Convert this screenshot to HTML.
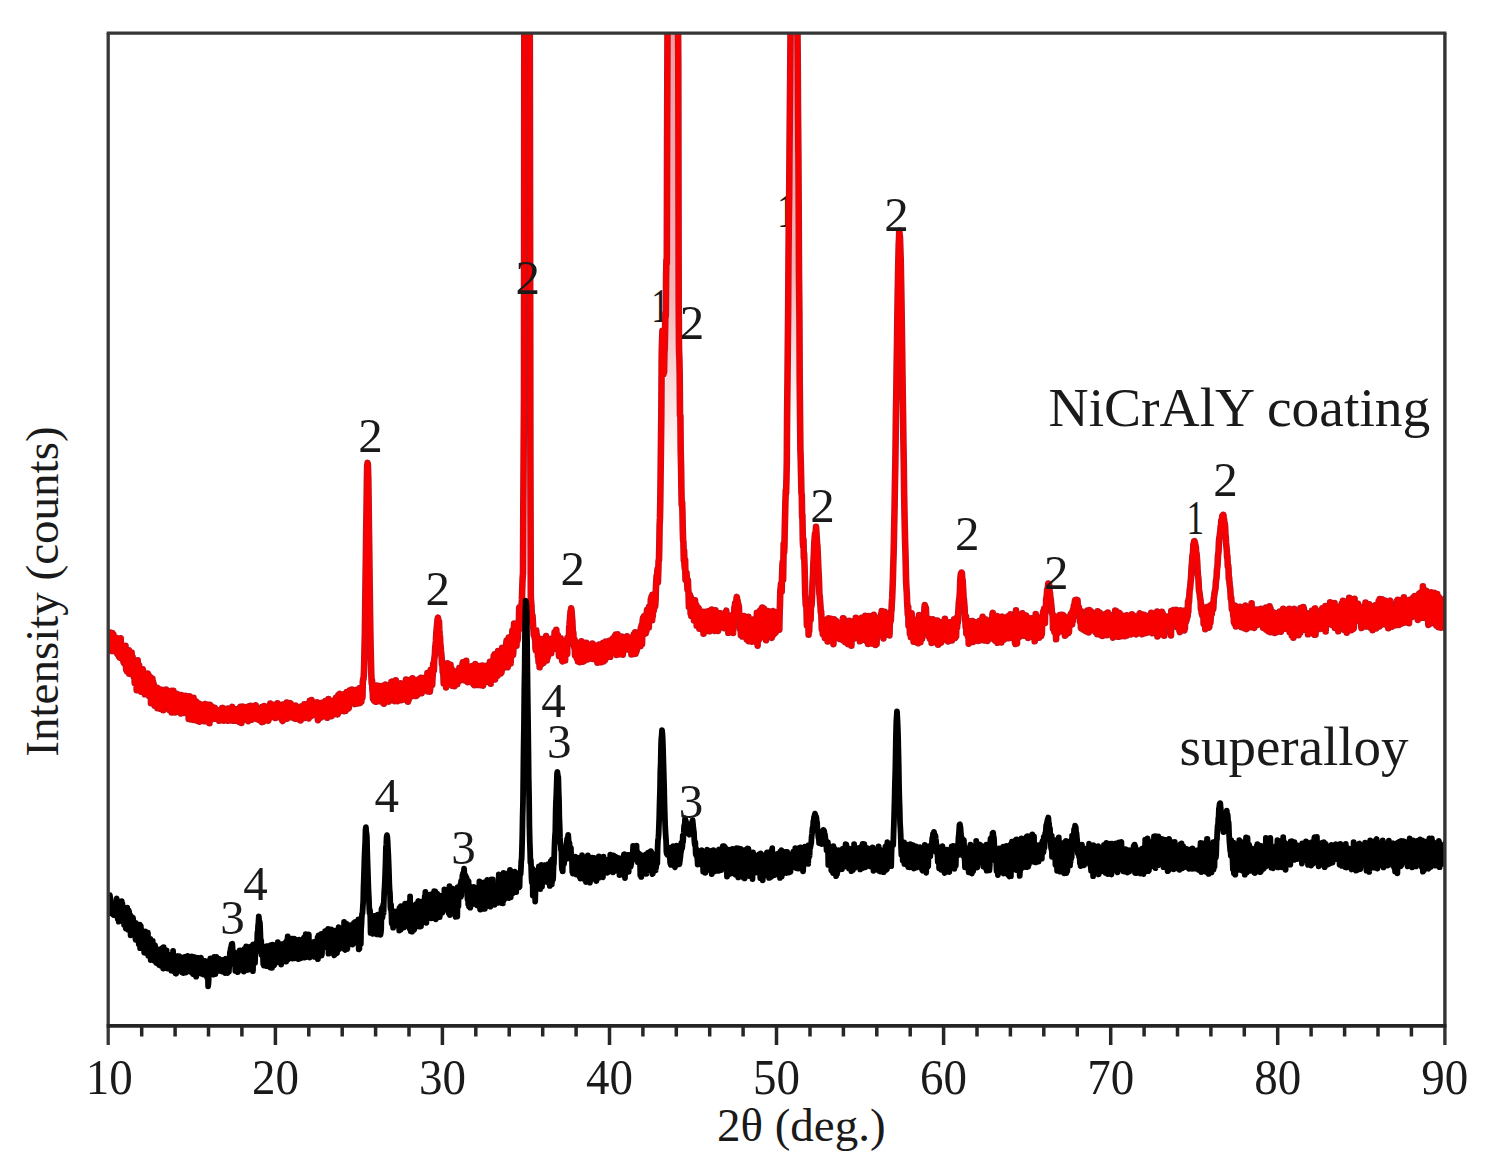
<!DOCTYPE html>
<html><head><meta charset="utf-8"><title>XRD</title>
<style>html,body{margin:0;padding:0;background:#fff;}body{width:1485px;height:1164px;overflow:hidden;}svg{display:block;}</style>
</head><body>
<svg width="1485" height="1164" viewBox="0 0 1485 1164">
<defs><clipPath id="pa"><rect x="108.3" y="32.5" width="1336.5" height="993.0"/></clipPath></defs>
<g font-family="'Liberation Serif', serif" fill="#1a1a1a" font-size="49" text-anchor="middle">
<text transform="translate(660.0,322.0) scale(0.72,1.000)">1</text>
<text transform="translate(786.0,227.0) scale(0.72,1.000)">1</text>
</g>
<defs><linearGradient id="pg" x1="0" y1="0" x2="0" y2="1"><stop offset="0" stop-color="#f29ca0"/><stop offset="0.6" stop-color="#f6b4b7"/><stop offset="1" stop-color="#fff"/></linearGradient></defs>
<polygon points="669.3,33.0 668.9,250.0 667.5,330.0 665.5,380.0 663.5,420.0 662.7,470.0 679.0,470.0 677.3,360.0 676.6,300.0 676.3,33.0" fill="url(#pg)"/>
<polygon points="793.0,33.0 791.5,260.0 790.2,430.0 797.0,430.0 796.0,260.0 795.0,33.0" fill="url(#pg)"/>
<polygon points="526.3,33.0 526.0,400.0 525.5,590.0 528.5,590.0 528.2,300.0 527.8,33.0" fill="url(#pg)"/>
<g clip-path="url(#pa)" fill="none" stroke-linejoin="round" stroke-linecap="round">
<defs><path id="rc" d="M100.0,640.3 L100.3,653.1 L100.7,630.4 L101.0,652.7 L101.4,634.9 L101.7,637.9 L102.0,648.6 L102.4,637.5 L102.7,641.2 L103.1,626.7 L103.4,646.0 L103.7,640.9 L104.1,635.2 L104.4,646.6 L104.8,634.6 L105.1,638.7 L105.4,630.2 L105.8,637.4 L106.1,632.3 L106.5,634.0 L106.8,645.0 L107.1,634.6 L107.5,639.6 L107.8,648.7 L108.2,648.2 L108.5,643.9 L108.8,640.7 L109.2,635.1 L109.5,632.7 L109.9,648.7 L110.2,640.5 L110.5,632.5 L110.9,643.4 L111.2,647.1 L111.6,643.9 L111.9,651.0 L112.2,633.0 L112.6,643.0 L112.9,641.8 L113.3,634.2 L113.6,646.2 L113.9,650.8 L114.3,645.7 L114.6,638.8 L115.0,651.1 L115.3,645.0 L115.6,645.3 L116.0,650.5 L116.3,637.7 L116.7,652.9 L117.0,650.4 L117.3,653.2 L117.7,640.6 L118.0,654.4 L118.4,641.2 L118.7,639.2 L119.0,656.7 L119.4,657.1 L119.7,657.6 L120.1,648.5 L120.4,644.3 L120.7,638.2 L121.1,653.7 L121.4,655.6 L121.8,658.2 L122.1,646.6 L122.4,645.4 L122.8,655.6 L123.1,658.9 L123.5,662.2 L123.8,646.1 L124.1,654.8 L124.5,663.6 L124.8,654.4 L125.2,658.8 L125.5,645.8 L125.8,662.3 L126.2,669.9 L126.5,668.2 L126.9,670.9 L127.2,664.8 L127.5,653.6 L127.9,669.5 L128.2,653.4 L128.6,672.8 L128.9,650.2 L129.2,673.8 L129.6,654.0 L129.9,660.4 L130.3,659.2 L130.6,671.1 L130.9,656.2 L131.3,662.7 L131.6,652.5 L132.0,660.0 L132.3,664.8 L132.6,657.1 L133.0,672.4 L133.3,665.2 L133.7,676.6 L134.0,674.5 L134.3,667.7 L134.7,683.0 L135.0,675.0 L135.4,681.7 L135.7,666.7 L136.0,673.1 L136.4,662.8 L136.7,690.3 L137.1,664.8 L137.4,665.6 L137.7,660.4 L138.1,666.7 L138.4,684.7 L138.8,682.7 L139.1,665.2 L139.4,672.5 L139.8,674.2 L140.1,683.4 L140.5,676.0 L140.8,681.0 L141.1,691.7 L141.5,687.4 L141.8,675.3 L142.2,677.8 L142.5,676.0 L142.8,669.3 L143.2,672.2 L143.5,674.8 L143.9,676.1 L144.2,676.6 L144.5,684.2 L144.9,694.3 L145.2,689.5 L145.6,690.1 L145.9,689.7 L146.2,686.4 L146.6,694.0 L146.9,689.4 L147.3,685.6 L147.6,673.6 L147.9,686.1 L148.3,677.7 L148.6,675.1 L149.0,687.9 L149.3,696.1 L149.6,681.3 L150.0,696.7 L150.3,690.0 L150.7,677.5 L151.0,703.2 L151.3,686.9 L151.7,683.7 L152.0,700.6 L152.4,678.9 L152.7,697.9 L153.0,681.8 L153.4,688.6 L153.7,684.0 L154.1,701.7 L154.4,689.6 L154.7,705.6 L155.1,696.8 L155.4,698.9 L155.8,694.7 L156.1,689.4 L156.4,692.1 L156.8,706.4 L157.1,687.8 L157.5,708.2 L157.8,702.5 L158.1,693.1 L158.5,700.1 L158.8,694.4 L159.2,694.9 L159.5,697.6 L159.8,689.4 L160.2,698.0 L160.5,708.8 L160.9,694.8 L161.2,703.9 L161.5,697.6 L161.9,693.7 L162.2,707.5 L162.6,690.0 L162.9,695.3 L163.2,710.1 L163.6,694.4 L163.9,707.3 L164.3,701.9 L164.6,706.8 L164.9,702.9 L165.3,696.8 L165.6,706.3 L166.0,689.6 L166.3,699.0 L166.6,697.4 L167.0,699.9 L167.3,692.1 L167.7,694.3 L168.0,702.3 L168.3,698.3 L168.7,708.0 L169.0,703.7 L169.4,710.0 L169.7,707.0 L170.0,704.0 L170.4,696.1 L170.7,708.5 L171.1,695.4 L171.4,690.8 L171.7,712.5 L172.1,703.3 L172.4,708.4 L172.8,703.4 L173.1,705.2 L173.4,690.8 L173.8,695.0 L174.1,706.9 L174.5,704.9 L174.8,694.7 L175.1,712.5 L175.5,695.0 L175.8,704.3 L176.2,695.3 L176.5,708.2 L176.8,699.1 L177.2,695.9 L177.5,694.1 L177.9,697.4 L178.2,698.1 L178.5,705.9 L178.9,704.4 L179.2,712.2 L179.6,712.3 L179.9,710.3 L180.2,708.6 L180.6,711.6 L180.9,713.5 L181.3,695.1 L181.6,697.3 L181.9,703.1 L182.3,696.8 L182.6,708.8 L183.0,700.9 L183.3,701.1 L183.6,701.7 L184.0,697.1 L184.3,712.9 L184.7,710.9 L185.0,709.9 L185.3,695.8 L185.7,705.7 L186.0,712.3 L186.4,699.2 L186.7,704.9 L187.0,696.3 L187.4,697.9 L187.7,701.2 L188.1,706.0 L188.4,707.2 L188.7,719.0 L189.1,703.8 L189.4,696.4 L189.8,717.0 L190.1,696.9 L190.4,697.6 L190.8,719.4 L191.1,714.5 L191.5,704.3 L191.8,698.3 L192.1,705.9 L192.5,704.7 L192.8,717.6 L193.2,707.3 L193.5,697.9 L193.8,719.9 L194.2,712.9 L194.5,700.0 L194.9,700.6 L195.2,709.5 L195.5,701.4 L195.9,713.8 L196.2,713.5 L196.6,702.1 L196.9,718.2 L197.2,717.7 L197.6,720.7 L197.9,715.1 L198.3,715.7 L198.6,705.8 L198.9,703.4 L199.3,704.2 L199.6,721.6 L200.0,715.0 L200.3,721.0 L200.6,709.5 L201.0,717.1 L201.3,704.5 L201.7,706.2 L202.0,708.2 L202.3,713.3 L202.7,713.4 L203.0,712.4 L203.4,711.0 L203.7,713.9 L204.0,721.2 L204.4,711.8 L204.7,718.9 L205.1,704.1 L205.4,710.6 L205.7,714.0 L206.1,715.1 L206.4,708.1 L206.8,711.0 L207.1,721.5 L207.4,716.0 L207.8,714.8 L208.1,704.7 L208.5,704.7 L208.8,707.9 L209.1,706.7 L209.5,723.2 L209.8,704.7 L210.2,711.2 L210.5,706.0 L210.8,716.4 L211.2,706.0 L211.5,706.4 L211.9,706.6 L212.2,709.9 L212.5,715.2 L212.9,719.0 L213.2,709.9 L213.6,710.2 L213.9,718.7 L214.2,717.5 L214.6,707.7 L214.9,718.2 L215.3,718.5 L215.6,709.1 L215.9,716.0 L216.3,709.8 L216.6,710.7 L217.0,714.5 L217.3,714.9 L217.6,714.4 L218.0,715.3 L218.3,711.0 L218.7,718.7 L219.0,712.0 L219.3,720.8 L219.7,715.2 L220.0,712.4 L220.4,710.5 L220.7,714.7 L221.0,713.2 L221.4,716.6 L221.7,714.8 L222.1,708.0 L222.4,719.5 L222.7,708.1 L223.1,719.4 L223.4,719.1 L223.8,720.7 L224.1,717.0 L224.4,709.4 L224.8,713.7 L225.1,713.7 L225.5,716.5 L225.8,712.7 L226.1,717.1 L226.5,709.9 L226.8,712.2 L227.2,715.1 L227.5,713.3 L227.8,708.6 L228.2,720.8 L228.5,717.0 L228.9,718.8 L229.2,712.1 L229.5,720.2 L229.9,718.4 L230.2,720.5 L230.6,709.4 L230.9,713.8 L231.2,712.3 L231.6,715.6 L231.9,709.7 L232.3,706.9 L232.6,713.6 L232.9,715.9 L233.3,711.7 L233.6,720.8 L234.0,712.1 L234.3,709.8 L234.6,718.4 L235.0,713.2 L235.3,709.3 L235.7,709.6 L236.0,720.2 L236.3,720.5 L236.7,715.9 L237.0,709.9 L237.4,716.9 L237.7,709.1 L238.0,710.9 L238.4,714.3 L238.7,712.1 L239.1,711.4 L239.4,721.8 L239.7,708.8 L240.1,715.6 L240.4,706.9 L240.8,707.6 L241.1,709.3 L241.4,723.0 L241.8,717.9 L242.1,720.7 L242.5,706.6 L242.8,717.1 L243.1,712.5 L243.5,712.1 L243.8,717.7 L244.2,710.2 L244.5,713.8 L244.8,709.2 L245.2,711.6 L245.5,714.2 L245.9,707.4 L246.2,709.6 L246.5,712.1 L246.9,713.0 L247.2,720.1 L247.6,716.6 L247.9,714.8 L248.2,721.1 L248.6,708.2 L248.9,706.4 L249.3,711.5 L249.6,706.5 L249.9,714.5 L250.3,714.8 L250.6,705.9 L251.0,717.2 L251.3,714.4 L251.6,711.9 L252.0,719.7 L252.3,718.6 L252.7,708.3 L253.0,707.5 L253.3,718.8 L253.7,707.7 L254.0,716.6 L254.4,710.5 L254.7,711.3 L255.0,714.1 L255.4,718.5 L255.7,705.4 L256.1,707.9 L256.4,716.1 L256.7,711.7 L257.1,709.8 L257.4,719.1 L257.8,709.3 L258.1,716.2 L258.4,719.7 L258.8,717.2 L259.1,716.6 L259.5,717.0 L259.8,718.6 L260.1,709.4 L260.5,715.8 L260.8,719.4 L261.2,721.3 L261.5,721.9 L261.8,722.0 L262.2,706.7 L262.5,711.3 L262.9,712.5 L263.2,721.7 L263.5,711.9 L263.9,709.6 L264.2,706.0 L264.6,710.0 L264.9,719.1 L265.2,706.2 L265.6,708.3 L265.9,710.3 L266.3,713.5 L266.6,710.9 L266.9,720.4 L267.3,708.6 L267.6,713.9 L268.0,718.0 L268.3,720.7 L268.6,719.5 L269.0,706.2 L269.3,717.9 L269.7,715.7 L270.0,711.0 L270.3,703.5 L270.7,706.2 L271.0,717.1 L271.4,704.8 L271.7,709.0 L272.0,708.0 L272.4,717.0 L272.7,709.8 L273.1,704.9 L273.4,709.8 L273.7,708.9 L274.1,715.9 L274.4,708.5 L274.8,715.2 L275.1,712.6 L275.4,718.0 L275.8,715.5 L276.1,709.7 L276.5,711.5 L276.8,711.2 L277.1,717.0 L277.5,703.3 L277.8,709.9 L278.2,712.2 L278.5,710.1 L278.8,713.1 L279.2,711.6 L279.5,709.7 L279.9,714.6 L280.2,708.2 L280.5,713.4 L280.9,715.6 L281.2,705.3 L281.6,708.6 L281.9,719.9 L282.2,720.4 L282.6,721.0 L282.9,704.6 L283.3,717.7 L283.6,719.9 L283.9,719.2 L284.3,715.5 L284.6,714.7 L285.0,715.6 L285.3,712.7 L285.6,716.8 L286.0,711.2 L286.3,705.5 L286.7,702.6 L287.0,718.6 L287.3,715.7 L287.7,704.0 L288.0,716.7 L288.4,706.8 L288.7,713.3 L289.0,708.1 L289.4,705.3 L289.7,704.8 L290.1,703.1 L290.4,703.4 L290.7,703.7 L291.1,704.3 L291.4,717.3 L291.8,711.3 L292.1,705.3 L292.4,711.4 L292.8,711.8 L293.1,710.8 L293.5,706.2 L293.8,709.8 L294.1,718.2 L294.5,708.7 L294.8,710.8 L295.2,718.6 L295.5,705.5 L295.8,714.5 L296.2,710.4 L296.5,715.3 L296.9,707.8 L297.2,711.3 L297.5,708.0 L297.9,716.7 L298.2,717.7 L298.6,712.9 L298.9,719.4 L299.2,714.9 L299.6,716.9 L299.9,718.3 L300.3,707.3 L300.6,720.4 L300.9,709.0 L301.3,710.4 L301.6,706.3 L302.0,717.0 L302.3,708.3 L302.6,714.2 L303.0,706.8 L303.3,708.5 L303.7,708.9 L304.0,707.0 L304.3,704.3 L304.7,715.0 L305.0,717.9 L305.4,706.7 L305.7,705.7 L306.0,708.2 L306.4,704.3 L306.7,712.8 L307.1,708.3 L307.4,711.4 L307.7,717.5 L308.1,716.8 L308.4,718.0 L308.8,718.3 L309.1,711.9 L309.4,710.3 L309.8,700.7 L310.1,702.1 L310.5,710.7 L310.8,716.1 L311.1,708.8 L311.5,700.0 L311.8,704.3 L312.2,713.9 L312.5,703.3 L312.8,704.2 L313.2,705.9 L313.5,711.6 L313.9,714.6 L314.2,704.5 L314.5,711.6 L314.9,710.6 L315.2,709.0 L315.6,711.4 L315.9,715.5 L316.2,704.5 L316.6,710.0 L316.9,702.4 L317.3,710.3 L317.6,715.9 L317.9,720.1 L318.3,709.6 L318.6,706.4 L319.0,711.6 L319.3,707.7 L319.6,703.2 L320.0,710.5 L320.3,715.3 L320.7,716.5 L321.0,717.5 L321.3,707.3 L321.7,705.2 L322.0,702.7 L322.4,708.2 L322.7,713.3 L323.0,704.4 L323.4,713.8 L323.7,711.9 L324.1,703.0 L324.4,710.8 L324.7,714.1 L325.1,716.4 L325.4,701.0 L325.8,714.8 L326.1,714.0 L326.4,702.3 L326.8,703.4 L327.1,717.8 L327.5,704.6 L327.8,702.8 L328.1,712.3 L328.5,699.0 L328.8,707.0 L329.2,704.0 L329.5,708.1 L329.8,709.3 L330.2,710.0 L330.5,705.2 L330.9,715.3 L331.2,714.1 L331.5,716.2 L331.9,705.1 L332.2,711.4 L332.6,704.6 L332.9,701.0 L333.2,709.0 L333.6,714.4 L333.9,711.4 L334.3,701.2 L334.6,699.9 L334.9,710.1 L335.3,708.9 L335.6,711.5 L336.0,697.7 L336.3,711.6 L336.6,703.6 L337.0,699.9 L337.3,701.3 L337.7,714.4 L338.0,713.6 L338.3,695.2 L338.7,700.3 L339.0,708.6 L339.4,693.9 L339.7,693.8 L340.0,693.9 L340.4,710.9 L340.7,700.1 L341.1,699.7 L341.4,709.3 L341.7,699.5 L342.1,708.2 L342.4,700.4 L342.8,698.8 L343.1,700.5 L343.4,696.1 L343.8,694.3 L344.1,711.2 L344.5,711.1 L344.8,701.3 L345.1,706.5 L345.5,710.8 L345.8,699.4 L346.2,706.8 L346.5,707.8 L346.8,692.1 L347.2,692.9 L347.5,707.2 L347.9,705.9 L348.2,692.9 L348.5,708.6 L348.9,707.8 L349.2,696.0 L349.6,696.0 L349.9,690.2 L350.2,698.4 L350.6,690.3 L350.9,700.2 L351.3,701.4 L351.6,700.4 L351.9,689.5 L352.3,700.5 L352.6,702.1 L353.0,690.8 L353.3,699.6 L353.6,702.3 L354.0,691.7 L354.3,703.3 L354.7,704.0 L355.0,700.4 L355.3,702.7 L355.7,693.4 L356.0,699.7 L356.4,703.7 L356.7,689.7 L357.0,702.2 L357.4,692.7 L357.7,701.9 L358.1,699.2 L358.4,701.7 L358.7,694.8 L359.1,695.5 L359.4,703.1 L359.8,688.1 L360.1,689.5 L360.4,702.9 L360.8,701.6 L361.1,688.4 L361.5,701.4 L361.8,689.7 L362.1,698.3 L362.5,696.8 L362.8,681.7 L363.2,679.1 L363.5,679.2 L363.8,675.3 L364.2,664.1 L364.5,648.5 L364.9,632.2 L365.2,608.1 L365.5,583.0 L365.9,554.9 L366.2,529.9 L366.6,503.4 L366.9,480.5 L367.2,465.5 L367.6,462.9 L367.9,464.8 L368.3,477.8 L368.6,499.0 L368.9,525.9 L369.3,554.1 L369.6,579.3 L370.0,608.4 L370.3,629.2 L370.6,645.4 L371.0,663.0 L371.3,674.7 L371.7,683.3 L372.0,680.2 L372.3,688.2 L372.7,692.2 L373.0,698.5 L373.4,693.1 L373.7,686.9 L374.0,700.6 L374.4,701.0 L374.7,694.2 L375.1,686.9 L375.4,699.6 L375.7,698.2 L376.1,701.8 L376.4,685.6 L376.8,693.6 L377.1,690.7 L377.4,687.2 L377.8,699.0 L378.1,691.7 L378.5,685.7 L378.8,687.5 L379.1,701.1 L379.5,697.1 L379.8,689.2 L380.2,699.2 L380.5,687.8 L380.8,698.7 L381.2,698.3 L381.5,686.1 L381.9,695.0 L382.2,699.8 L382.5,700.4 L382.9,699.2 L383.2,703.0 L383.6,700.1 L383.9,703.6 L384.2,693.0 L384.6,685.3 L384.9,688.0 L385.3,690.0 L385.6,684.6 L385.9,685.9 L386.3,694.8 L386.6,689.0 L387.0,689.8 L387.3,699.2 L387.6,701.4 L388.0,701.6 L388.3,691.7 L388.7,698.5 L389.0,701.5 L389.3,687.5 L389.7,688.3 L390.0,697.3 L390.4,689.1 L390.7,687.2 L391.0,690.7 L391.4,682.1 L391.7,691.9 L392.1,681.6 L392.4,686.3 L392.7,685.3 L393.1,688.2 L393.4,682.4 L393.8,691.9 L394.1,696.7 L394.4,688.0 L394.8,701.1 L395.1,699.5 L395.5,687.0 L395.8,680.3 L396.1,697.1 L396.5,685.5 L396.8,687.7 L397.2,693.1 L397.5,701.2 L397.8,687.0 L398.2,690.5 L398.5,693.6 L398.9,694.7 L399.2,685.3 L399.5,692.6 L399.9,691.5 L400.2,693.8 L400.6,683.2 L400.9,683.4 L401.2,700.2 L401.6,696.9 L401.9,697.0 L402.3,699.2 L402.6,699.6 L402.9,687.8 L403.3,695.1 L403.6,692.7 L404.0,691.0 L404.3,693.3 L404.6,685.8 L405.0,697.1 L405.3,687.6 L405.7,682.3 L406.0,679.6 L406.3,692.5 L406.7,683.8 L407.0,700.5 L407.4,682.8 L407.7,685.1 L408.0,701.6 L408.4,689.4 L408.7,699.6 L409.1,695.8 L409.4,680.1 L409.7,682.2 L410.1,686.0 L410.4,696.8 L410.8,684.8 L411.1,687.5 L411.4,687.8 L411.8,684.4 L412.1,693.6 L412.5,678.3 L412.8,681.9 L413.1,693.9 L413.5,690.0 L413.8,688.0 L414.2,684.9 L414.5,679.9 L414.8,686.7 L415.2,696.0 L415.5,689.1 L415.9,688.7 L416.2,695.6 L416.5,693.8 L416.9,695.7 L417.2,694.9 L417.6,689.9 L417.9,683.1 L418.2,689.1 L418.6,683.7 L418.9,692.3 L419.3,679.0 L419.6,685.8 L419.9,692.5 L420.3,685.4 L420.6,688.0 L421.0,677.9 L421.3,681.6 L421.6,693.3 L422.0,688.2 L422.3,682.7 L422.7,685.6 L423.0,689.5 L423.3,689.5 L423.7,690.1 L424.0,679.8 L424.4,678.3 L424.7,686.8 L425.0,684.8 L425.4,685.3 L425.7,677.3 L426.1,679.7 L426.4,688.1 L426.7,680.3 L427.1,688.0 L427.4,673.0 L427.8,691.5 L428.1,676.3 L428.4,682.1 L428.8,690.9 L429.1,676.5 L429.5,675.6 L429.8,691.7 L430.1,689.7 L430.5,681.7 L430.8,669.9 L431.2,682.0 L431.5,673.3 L431.8,671.7 L432.2,684.8 L432.5,677.7 L432.9,672.8 L433.2,663.8 L433.5,667.0 L433.9,670.4 L434.2,660.2 L434.6,656.9 L434.9,654.6 L435.2,647.5 L435.6,644.5 L435.9,641.0 L436.3,632.9 L436.6,629.7 L436.9,626.5 L437.3,622.1 L437.6,619.2 L438.0,617.7 L438.3,620.8 L438.6,624.2 L439.0,621.6 L439.3,629.7 L439.7,634.3 L440.0,636.9 L440.3,643.6 L440.7,647.2 L441.0,651.1 L441.4,654.9 L441.7,658.8 L442.0,664.7 L442.4,661.9 L442.7,671.8 L443.1,670.1 L443.4,675.7 L443.7,683.4 L444.1,669.3 L444.4,673.2 L444.8,671.1 L445.1,666.7 L445.4,679.1 L445.8,679.3 L446.1,687.4 L446.5,678.6 L446.8,673.9 L447.1,684.3 L447.5,663.4 L447.8,671.0 L448.2,681.2 L448.5,666.8 L448.8,672.4 L449.2,683.2 L449.5,671.8 L449.9,669.0 L450.2,684.1 L450.5,664.7 L450.9,683.4 L451.2,671.2 L451.6,668.5 L451.9,675.5 L452.2,675.4 L452.6,685.8 L452.9,681.2 L453.3,674.7 L453.6,677.0 L453.9,671.1 L454.3,686.2 L454.6,672.6 L455.0,683.9 L455.3,678.8 L455.6,684.2 L456.0,671.7 L456.3,673.3 L456.7,672.1 L457.0,681.8 L457.3,684.2 L457.7,681.5 L458.0,674.0 L458.4,681.4 L458.7,679.4 L459.0,675.4 L459.4,667.7 L459.7,668.9 L460.1,678.6 L460.4,667.9 L460.7,675.9 L461.1,680.1 L461.4,677.4 L461.8,676.6 L462.1,668.6 L462.4,664.8 L462.8,662.2 L463.1,662.1 L463.5,666.8 L463.8,675.5 L464.1,672.0 L464.5,665.3 L464.8,668.2 L465.2,673.0 L465.5,680.5 L465.8,677.4 L466.2,660.9 L466.5,673.5 L466.9,665.5 L467.2,681.6 L467.5,682.1 L467.9,675.0 L468.2,678.7 L468.6,677.5 L468.9,679.9 L469.2,668.4 L469.6,667.4 L469.9,677.9 L470.3,681.6 L470.6,667.9 L470.9,674.7 L471.3,674.3 L471.6,671.0 L472.0,678.5 L472.3,666.0 L472.6,670.8 L473.0,672.0 L473.3,683.8 L473.7,677.7 L474.0,678.4 L474.3,685.2 L474.7,666.8 L475.0,675.9 L475.4,664.1 L475.7,665.4 L476.0,678.2 L476.4,681.5 L476.7,676.8 L477.1,675.4 L477.4,680.8 L477.7,685.0 L478.1,684.1 L478.4,681.1 L478.8,671.5 L479.1,679.9 L479.4,666.0 L479.8,683.1 L480.1,667.0 L480.5,685.1 L480.8,667.6 L481.1,666.6 L481.5,668.7 L481.8,672.8 L482.2,665.5 L482.5,667.4 L482.8,684.2 L483.2,685.5 L483.5,665.8 L483.9,672.0 L484.2,671.6 L484.5,681.7 L484.9,677.2 L485.2,671.5 L485.6,679.8 L485.9,675.5 L486.2,667.9 L486.6,679.5 L486.9,672.4 L487.3,681.8 L487.6,676.9 L487.9,665.4 L488.3,679.4 L488.6,675.1 L489.0,674.1 L489.3,671.0 L489.6,677.4 L490.0,661.7 L490.3,672.8 L490.7,683.7 L491.0,664.0 L491.3,661.7 L491.7,668.7 L492.0,671.3 L492.4,666.9 L492.7,669.6 L493.0,674.0 L493.4,676.7 L493.7,656.1 L494.1,665.2 L494.4,671.3 L494.7,654.4 L495.1,679.5 L495.4,670.8 L495.8,666.3 L496.1,664.9 L496.4,656.4 L496.8,653.8 L497.1,669.9 L497.5,675.8 L497.8,671.9 L498.1,651.0 L498.5,651.2 L498.8,663.6 L499.2,664.8 L499.5,665.2 L499.8,671.6 L500.2,671.7 L500.5,673.6 L500.9,656.8 L501.2,659.7 L501.5,672.4 L501.9,664.6 L502.2,647.9 L502.6,668.8 L502.9,661.1 L503.2,649.7 L503.6,653.2 L503.9,658.8 L504.3,660.1 L504.6,653.4 L504.9,661.4 L505.3,655.9 L505.6,666.6 L506.0,663.5 L506.3,642.6 L506.6,640.7 L507.0,663.4 L507.3,655.8 L507.7,667.3 L508.0,649.7 L508.3,641.8 L508.7,637.5 L509.0,659.6 L509.4,638.1 L509.7,654.4 L510.0,651.2 L510.4,657.2 L510.7,663.4 L511.1,639.6 L511.4,646.5 L511.7,653.7 L512.1,635.4 L512.4,630.5 L512.8,631.2 L513.1,654.8 L513.4,650.1 L513.8,631.0 L514.1,623.6 L514.5,643.2 L514.8,631.8 L515.1,627.3 L515.5,625.1 L515.8,633.3 L516.2,627.9 L516.5,645.7 L516.8,632.6 L517.2,641.5 L517.5,640.4 L517.9,637.7 L518.2,624.2 L518.5,624.9 L518.9,621.9 L519.2,607.7 L519.6,628.9 L519.9,607.1 L520.2,614.1 L520.6,614.8 L520.9,614.9 L521.3,606.6 L521.6,604.6 L521.9,599.9 L522.3,586.8 L522.6,578.4 L523.0,573.3 L523.3,507.4 L523.6,459.7 L524.0,393.9 L524.3,23.9 L524.7,6.7 L525.0,10.3 L525.3,-15.4 L525.7,-24.8 L526.0,-33.0 L526.4,-49.2 L526.7,-57.6 L527.0,-78.8 L527.4,-60.0 L527.7,-42.5 L528.1,-51.4 L528.4,-25.1 L528.7,-24.8 L529.1,4.4 L529.4,10.2 L529.8,37.9 L530.1,231.8 L530.4,456.3 L530.8,597.0 L531.1,601.9 L531.5,605.7 L531.8,617.2 L532.1,622.8 L532.5,615.5 L532.8,620.8 L533.2,627.2 L533.5,630.4 L533.8,635.2 L534.2,632.8 L534.5,634.2 L534.9,639.0 L535.2,636.7 L535.5,648.6 L535.9,650.7 L536.2,630.3 L536.6,635.4 L536.9,634.9 L537.2,642.4 L537.6,643.4 L537.9,656.4 L538.3,656.4 L538.6,662.3 L538.9,656.0 L539.3,653.3 L539.6,667.3 L540.0,655.0 L540.3,647.4 L540.6,645.4 L541.0,639.0 L541.3,664.2 L541.7,657.7 L542.0,646.7 L542.3,660.9 L542.7,657.4 L543.0,648.7 L543.4,663.0 L543.7,661.1 L544.0,648.0 L544.4,647.4 L544.7,639.6 L545.1,637.9 L545.4,645.1 L545.7,640.7 L546.1,636.1 L546.4,655.2 L546.8,660.5 L547.1,653.4 L547.4,658.2 L547.8,657.1 L548.1,652.0 L548.5,649.3 L548.8,645.0 L549.1,648.5 L549.5,644.4 L549.8,641.2 L550.2,648.4 L550.5,651.8 L550.8,650.2 L551.2,653.3 L551.5,645.3 L551.9,638.5 L552.2,642.6 L552.5,643.9 L552.9,648.8 L553.2,644.9 L553.6,649.0 L553.9,639.4 L554.2,642.2 L554.6,632.2 L554.9,640.6 L555.3,640.2 L555.6,638.1 L555.9,637.5 L556.3,629.7 L556.6,641.8 L557.0,638.2 L557.3,634.5 L557.6,634.7 L558.0,635.8 L558.3,649.6 L558.7,650.8 L559.0,656.0 L559.3,653.1 L559.7,649.5 L560.0,641.7 L560.4,655.9 L560.7,638.4 L561.0,653.9 L561.4,642.2 L561.7,642.1 L562.1,660.8 L562.4,661.3 L562.7,655.5 L563.1,643.9 L563.4,649.0 L563.8,646.5 L564.1,641.9 L564.4,644.3 L564.8,640.7 L565.1,660.5 L565.5,644.2 L565.8,647.2 L566.1,644.1 L566.5,652.5 L566.8,650.0 L567.2,653.9 L567.5,637.7 L567.8,639.9 L568.2,644.4 L568.5,640.6 L568.9,640.0 L569.2,627.2 L569.5,624.5 L569.9,619.4 L570.2,615.3 L570.6,611.0 L570.9,611.8 L571.2,608.4 L571.6,610.7 L571.9,616.2 L572.3,620.0 L572.6,627.0 L572.9,633.7 L573.3,632.2 L573.6,640.6 L574.0,645.2 L574.3,647.7 L574.6,639.7 L575.0,655.2 L575.3,654.8 L575.7,646.5 L576.0,650.0 L576.3,656.2 L576.7,658.5 L577.0,646.3 L577.4,657.3 L577.7,649.7 L578.0,661.5 L578.4,660.0 L578.7,648.2 L579.1,648.2 L579.4,651.3 L579.7,662.2 L580.1,642.8 L580.4,652.9 L580.8,655.2 L581.1,656.8 L581.4,641.3 L581.8,654.2 L582.1,650.9 L582.5,648.3 L582.8,661.7 L583.1,642.6 L583.5,656.3 L583.8,644.9 L584.2,661.0 L584.5,652.4 L584.8,651.3 L585.2,646.2 L585.5,653.1 L585.9,659.8 L586.2,642.9 L586.5,655.6 L586.9,645.4 L587.2,647.2 L587.6,659.5 L587.9,645.4 L588.2,656.7 L588.6,645.7 L588.9,652.2 L589.3,654.3 L589.6,646.9 L589.9,657.4 L590.3,647.7 L590.6,651.4 L591.0,647.7 L591.3,656.6 L591.6,647.6 L592.0,647.7 L592.3,643.6 L592.7,659.0 L593.0,644.1 L593.3,648.6 L593.7,654.1 L594.0,649.0 L594.4,653.1 L594.7,649.6 L595.0,658.6 L595.4,647.6 L595.7,646.3 L596.1,647.1 L596.4,651.6 L596.7,653.2 L597.1,659.3 L597.4,662.6 L597.8,649.5 L598.1,659.2 L598.4,649.2 L598.8,648.6 L599.1,644.5 L599.5,659.7 L599.8,647.7 L600.1,654.0 L600.5,650.8 L600.8,662.3 L601.2,646.2 L601.5,651.5 L601.8,657.3 L602.2,644.8 L602.5,658.1 L602.9,651.4 L603.2,642.8 L603.5,661.4 L603.9,648.1 L604.2,649.2 L604.6,656.3 L604.9,660.2 L605.2,644.2 L605.6,641.7 L605.9,654.5 L606.3,652.9 L606.6,648.0 L606.9,652.0 L607.3,657.4 L607.6,655.3 L608.0,650.2 L608.3,656.4 L608.6,656.6 L609.0,654.0 L609.3,640.8 L609.7,649.8 L610.0,650.8 L610.3,656.8 L610.7,648.7 L611.0,650.9 L611.4,653.2 L611.7,640.1 L612.0,639.4 L612.4,638.8 L612.7,640.1 L613.1,642.9 L613.4,638.5 L613.7,649.8 L614.1,649.2 L614.4,646.6 L614.8,636.0 L615.1,647.9 L615.4,638.0 L615.8,634.5 L616.1,653.0 L616.5,654.9 L616.8,635.2 L617.1,649.9 L617.5,634.3 L617.8,648.3 L618.2,648.9 L618.5,648.2 L618.8,654.5 L619.2,648.5 L619.5,637.8 L619.9,653.9 L620.2,641.4 L620.5,647.1 L620.9,644.7 L621.2,652.3 L621.6,636.5 L621.9,643.1 L622.2,644.7 L622.6,648.0 L622.9,654.7 L623.3,641.3 L623.6,642.2 L623.9,649.5 L624.3,638.9 L624.6,645.7 L625.0,641.3 L625.3,648.2 L625.6,647.1 L626.0,649.5 L626.3,643.7 L626.7,639.9 L627.0,636.2 L627.3,647.5 L627.7,640.4 L628.0,637.3 L628.4,642.9 L628.7,641.4 L629.0,649.6 L629.4,641.6 L629.7,642.4 L630.1,650.3 L630.4,648.7 L630.7,638.2 L631.1,646.2 L631.4,654.4 L631.8,653.5 L632.1,651.9 L632.4,638.8 L632.8,654.3 L633.1,636.5 L633.5,641.2 L633.8,634.4 L634.1,644.8 L634.5,648.4 L634.8,647.5 L635.2,632.3 L635.5,653.7 L635.8,638.9 L636.2,648.0 L636.5,651.7 L636.9,648.4 L637.2,643.1 L637.5,643.3 L637.9,634.9 L638.2,637.0 L638.6,645.3 L638.9,641.8 L639.2,640.9 L639.6,640.6 L639.9,633.1 L640.3,646.2 L640.6,631.4 L640.9,627.5 L641.3,637.5 L641.6,625.4 L642.0,644.2 L642.3,633.3 L642.6,621.4 L643.0,618.1 L643.3,631.9 L643.7,616.8 L644.0,616.3 L644.3,625.0 L644.7,625.3 L645.0,633.6 L645.4,615.5 L645.7,633.1 L646.0,621.4 L646.4,631.3 L646.7,613.2 L647.1,609.8 L647.4,618.9 L647.7,612.7 L648.1,618.2 L648.4,626.4 L648.8,627.6 L649.1,606.8 L649.4,609.8 L649.8,610.0 L650.1,605.8 L650.5,611.5 L650.8,599.6 L651.1,601.8 L651.5,596.7 L651.8,606.1 L652.2,620.2 L652.5,594.9 L652.8,616.0 L653.2,597.0 L653.5,608.7 L653.9,610.3 L654.2,601.1 L654.5,603.3 L654.9,598.9 L655.2,606.2 L655.6,599.9 L655.9,588.3 L656.2,582.4 L656.6,575.8 L656.9,582.5 L657.3,571.7 L657.6,568.8 L657.9,582.5 L658.3,571.6 L658.6,560.5 L659.0,560.1 L659.3,545.5 L659.6,526.0 L660.0,517.4 L660.3,499.8 L660.7,467.0 L661.0,440.9 L661.3,415.3 L661.7,354.9 L662.0,342.1 L662.4,330.8 L662.7,361.0 L663.0,373.4 L663.4,374.5 L663.7,367.7 L664.1,372.0 L664.4,352.6 L664.7,349.3 L665.1,329.5 L665.4,313.1 L665.8,315.9 L666.1,277.1 L666.4,260.4 L666.8,263.3 L667.1,137.6 L667.5,23.6 L667.8,18.4 L668.1,20.1 L668.5,10.7 L668.8,5.1 L669.2,-7.5 L669.5,0.2 L669.8,-27.3 L670.2,-23.2 L670.5,-39.2 L670.9,-43.6 L671.2,-51.1 L671.5,-46.4 L671.9,-59.3 L672.2,-71.3 L672.6,-74.3 L672.9,-78.7 L673.2,-70.0 L673.6,-69.4 L673.9,-59.8 L674.3,-51.1 L674.6,-51.8 L674.9,-46.3 L675.3,-27.1 L675.6,-28.6 L676.0,-8.2 L676.3,-18.7 L676.6,-7.8 L677.0,8.2 L677.3,3.8 L677.7,17.1 L678.0,21.2 L678.3,62.2 L678.7,300.5 L679.0,348.7 L679.4,359.3 L679.7,374.6 L680.0,415.4 L680.4,415.8 L680.7,450.2 L681.1,467.8 L681.4,489.4 L681.7,504.8 L682.1,502.0 L682.4,510.5 L682.8,530.3 L683.1,540.5 L683.4,541.8 L683.8,560.2 L684.1,550.7 L684.5,565.2 L684.8,568.6 L685.1,559.8 L685.5,579.7 L685.8,572.1 L686.2,576.5 L686.5,572.9 L686.8,580.0 L687.2,583.4 L687.5,589.7 L687.9,580.2 L688.2,589.2 L688.5,591.5 L688.9,607.0 L689.2,596.9 L689.6,600.9 L689.9,594.9 L690.2,597.1 L690.6,613.5 L690.9,597.6 L691.3,616.0 L691.6,605.1 L691.9,615.8 L692.3,605.9 L692.6,614.3 L693.0,615.0 L693.3,602.6 L693.6,601.7 L694.0,620.5 L694.3,603.0 L694.7,616.7 L695.0,600.2 L695.3,609.3 L695.7,607.0 L696.0,605.1 L696.4,604.9 L696.7,625.7 L697.0,617.9 L697.4,612.7 L697.7,616.2 L698.1,624.9 L698.4,620.4 L698.7,608.1 L699.1,610.4 L699.4,628.8 L699.8,618.9 L700.1,620.4 L700.4,611.4 L700.8,611.3 L701.1,613.2 L701.5,615.9 L701.8,621.9 L702.1,617.8 L702.5,626.2 L702.8,620.1 L703.2,622.5 L703.5,633.7 L703.8,611.7 L704.2,625.4 L704.5,627.7 L704.9,615.2 L705.2,630.5 L705.5,614.2 L705.9,629.1 L706.2,615.5 L706.6,620.2 L706.9,619.5 L707.2,623.4 L707.6,624.8 L707.9,611.3 L708.3,629.0 L708.6,622.1 L708.9,631.1 L709.3,613.8 L709.6,620.0 L710.0,631.1 L710.3,624.0 L710.6,621.3 L711.0,620.5 L711.3,629.0 L711.7,609.5 L712.0,630.2 L712.3,620.3 L712.7,627.0 L713.0,620.5 L713.4,627.2 L713.7,610.9 L714.0,618.9 L714.4,626.2 L714.7,630.9 L715.1,620.9 L715.4,610.3 L715.7,625.9 L716.1,623.8 L716.4,612.2 L716.8,613.7 L717.1,620.4 L717.4,612.9 L717.8,629.5 L718.1,630.9 L718.5,625.5 L718.8,627.2 L719.1,617.0 L719.5,613.2 L719.8,624.3 L720.2,625.4 L720.5,623.7 L720.8,615.5 L721.2,613.4 L721.5,621.4 L721.9,615.3 L722.2,617.4 L722.5,620.3 L722.9,616.5 L723.2,627.7 L723.6,617.5 L723.9,622.0 L724.2,628.1 L724.6,623.7 L724.9,618.6 L725.3,625.3 L725.6,614.1 L725.9,612.0 L726.3,610.7 L726.6,625.1 L727.0,625.2 L727.3,625.7 L727.6,626.0 L728.0,624.0 L728.3,632.8 L728.7,621.4 L729.0,615.5 L729.3,617.9 L729.7,620.7 L730.0,625.0 L730.4,619.8 L730.7,621.2 L731.0,618.4 L731.4,627.9 L731.7,630.8 L732.1,618.8 L732.4,629.5 L732.7,614.9 L733.1,632.9 L733.4,617.0 L733.8,623.0 L734.1,620.0 L734.4,607.3 L734.8,615.2 L735.1,603.3 L735.5,608.1 L735.8,606.1 L736.1,607.6 L736.5,598.6 L736.8,596.9 L737.2,601.3 L737.5,599.9 L737.8,604.0 L738.2,603.3 L738.5,612.0 L738.9,606.3 L739.2,615.0 L739.5,623.4 L739.9,628.9 L740.2,617.6 L740.6,623.5 L740.9,635.1 L741.2,616.5 L741.6,632.8 L741.9,630.7 L742.3,636.4 L742.6,625.4 L742.9,624.9 L743.3,627.1 L743.6,623.0 L744.0,616.1 L744.3,628.0 L744.6,624.0 L745.0,626.9 L745.3,631.6 L745.7,624.3 L746.0,618.3 L746.3,636.0 L746.7,639.5 L747.0,620.3 L747.4,630.8 L747.7,624.5 L748.0,634.0 L748.4,616.7 L748.7,641.2 L749.1,639.5 L749.4,620.2 L749.7,633.1 L750.1,624.9 L750.4,622.2 L750.8,640.4 L751.1,637.2 L751.4,631.0 L751.8,632.5 L752.1,641.7 L752.5,624.1 L752.8,627.8 L753.1,621.0 L753.5,626.6 L753.8,619.2 L754.2,623.6 L754.5,632.9 L754.8,621.5 L755.2,633.2 L755.5,638.6 L755.9,632.3 L756.2,626.3 L756.5,623.7 L756.9,612.7 L757.2,637.8 L757.6,645.6 L757.9,616.9 L758.2,635.0 L758.6,631.1 L758.9,639.8 L759.3,634.3 L759.6,613.5 L759.9,610.8 L760.3,619.5 L760.6,613.1 L761.0,630.3 L761.3,609.2 L761.6,632.3 L762.0,635.5 L762.3,607.6 L762.7,637.2 L763.0,634.7 L763.3,608.4 L763.7,627.0 L764.0,608.7 L764.4,624.8 L764.7,611.3 L765.0,627.7 L765.4,611.5 L765.7,612.0 L766.1,640.3 L766.4,635.3 L766.7,630.8 L767.1,634.5 L767.4,615.2 L767.8,611.0 L768.1,618.5 L768.4,632.8 L768.8,632.5 L769.1,631.2 L769.5,621.5 L769.8,624.8 L770.1,631.6 L770.5,627.0 L770.8,614.7 L771.2,623.3 L771.5,637.1 L771.8,637.7 L772.2,611.2 L772.5,612.7 L772.9,611.0 L773.2,624.0 L773.5,634.7 L773.9,624.1 L774.2,619.0 L774.6,633.2 L774.9,616.2 L775.2,624.7 L775.6,632.6 L775.9,632.2 L776.3,612.4 L776.6,617.7 L776.9,620.9 L777.3,630.2 L777.6,628.3 L778.0,624.8 L778.3,620.3 L778.6,617.8 L779.0,626.1 L779.3,629.7 L779.7,611.8 L780.0,603.7 L780.3,590.4 L780.7,587.7 L781.0,583.9 L781.4,586.8 L781.7,591.6 L782.0,577.1 L782.4,566.1 L782.7,562.0 L783.1,579.6 L783.4,561.2 L783.7,543.9 L784.1,552.6 L784.4,547.9 L784.8,526.9 L785.1,515.1 L785.4,501.9 L785.8,490.2 L786.1,493.2 L786.5,477.2 L786.8,462.3 L787.1,415.6 L787.5,378.9 L787.8,347.1 L788.2,305.2 L788.5,257.6 L788.8,223.2 L789.2,194.1 L789.5,150.2 L789.9,105.7 L790.2,75.1 L790.5,33.2 L790.9,25.1 L791.2,13.1 L791.6,4.9 L791.9,0.6 L792.2,-22.4 L792.6,-45.0 L792.9,-45.0 L793.3,-55.8 L793.6,-57.7 L793.9,-64.2 L794.3,-81.4 L794.6,-47.8 L795.0,-59.8 L795.3,-35.9 L795.6,-43.6 L796.0,-5.7 L796.3,-9.1 L796.7,-4.4 L797.0,30.0 L797.3,13.5 L797.7,54.2 L798.0,109.4 L798.4,155.2 L798.7,209.7 L799.0,275.1 L799.4,314.4 L799.7,380.2 L800.1,421.3 L800.4,449.6 L800.7,459.1 L801.1,477.1 L801.4,492.3 L801.8,495.7 L802.1,517.0 L802.4,515.1 L802.8,539.6 L803.1,546.0 L803.5,539.5 L803.8,557.9 L804.1,553.4 L804.5,564.1 L804.8,575.8 L805.2,593.9 L805.5,599.6 L805.8,605.3 L806.2,602.1 L806.5,610.1 L806.9,625.4 L807.2,624.8 L807.5,621.0 L807.9,614.4 L808.2,613.7 L808.6,634.7 L808.9,621.3 L809.2,631.2 L809.6,615.5 L809.9,620.7 L810.3,612.5 L810.6,620.0 L810.9,607.0 L811.3,606.5 L811.6,604.9 L812.0,597.4 L812.3,589.7 L812.6,581.6 L813.0,575.3 L813.3,564.4 L813.7,557.5 L814.0,550.8 L814.3,542.5 L814.7,537.5 L815.0,533.8 L815.4,533.9 L815.7,532.9 L816.0,526.7 L816.4,532.0 L816.7,537.7 L817.1,543.7 L817.4,545.7 L817.7,551.8 L818.1,561.4 L818.4,569.8 L818.8,576.4 L819.1,583.9 L819.4,594.1 L819.8,596.8 L820.1,601.9 L820.5,606.4 L820.8,612.4 L821.1,610.9 L821.5,619.1 L821.8,629.2 L822.2,629.1 L822.5,629.3 L822.8,634.2 L823.2,634.7 L823.5,628.1 L823.9,631.4 L824.2,624.2 L824.5,629.1 L824.9,638.0 L825.2,628.9 L825.6,627.0 L825.9,633.1 L826.2,628.4 L826.6,619.6 L826.9,626.6 L827.3,620.6 L827.6,641.5 L827.9,636.8 L828.3,628.4 L828.6,618.4 L829.0,619.3 L829.3,623.5 L829.6,631.1 L830.0,618.8 L830.3,626.4 L830.7,621.0 L831.0,618.8 L831.3,619.4 L831.7,619.5 L832.0,641.1 L832.4,621.5 L832.7,619.6 L833.0,640.6 L833.4,644.1 L833.7,637.3 L834.1,619.4 L834.4,621.3 L834.7,621.9 L835.1,621.0 L835.4,630.4 L835.8,620.8 L836.1,637.8 L836.4,629.0 L836.8,624.8 L837.1,623.1 L837.5,632.4 L837.8,636.6 L838.1,632.6 L838.5,626.3 L838.8,636.8 L839.2,631.2 L839.5,632.6 L839.8,639.0 L840.2,634.5 L840.5,622.8 L840.9,635.0 L841.2,626.0 L841.5,637.1 L841.9,632.3 L842.2,631.8 L842.6,621.4 L842.9,618.3 L843.2,640.4 L843.6,618.4 L843.9,619.1 L844.3,629.9 L844.6,640.1 L844.9,631.9 L845.3,642.0 L845.6,636.0 L846.0,638.7 L846.3,638.9 L846.6,642.3 L847.0,643.2 L847.3,626.8 L847.7,636.6 L848.0,631.2 L848.3,644.2 L848.7,633.6 L849.0,628.8 L849.4,620.9 L849.7,637.8 L850.0,621.4 L850.4,635.4 L850.7,626.7 L851.1,636.2 L851.4,645.6 L851.7,628.3 L852.1,632.5 L852.4,632.5 L852.8,624.9 L853.1,638.0 L853.4,636.9 L853.8,639.0 L854.1,624.7 L854.5,620.9 L854.8,628.0 L855.1,621.1 L855.5,624.8 L855.8,617.9 L856.2,627.8 L856.5,626.7 L856.8,625.8 L857.2,627.3 L857.5,618.8 L857.9,628.6 L858.2,634.4 L858.5,626.2 L858.9,631.9 L859.2,638.4 L859.6,630.7 L859.9,641.3 L860.2,636.9 L860.6,631.3 L860.9,620.1 L861.3,629.1 L861.6,618.1 L861.9,639.9 L862.3,617.6 L862.6,621.6 L863.0,620.6 L863.3,637.4 L863.6,638.5 L864.0,634.6 L864.3,637.6 L864.7,621.6 L865.0,638.9 L865.3,615.8 L865.7,622.8 L866.0,638.7 L866.4,634.4 L866.7,641.3 L867.0,639.1 L867.4,619.7 L867.7,626.5 L868.1,644.0 L868.4,635.3 L868.7,638.1 L869.1,616.0 L869.4,643.0 L869.8,630.4 L870.1,617.9 L870.4,630.9 L870.8,641.2 L871.1,629.9 L871.5,643.4 L871.8,641.4 L872.1,628.4 L872.5,642.9 L872.8,636.8 L873.2,621.4 L873.5,617.0 L873.8,614.8 L874.2,628.9 L874.5,637.0 L874.9,617.0 L875.2,619.0 L875.5,645.0 L875.9,639.1 L876.2,622.4 L876.6,644.0 L876.9,627.2 L877.2,619.9 L877.6,622.8 L877.9,620.4 L878.3,634.9 L878.6,623.8 L878.9,630.6 L879.3,632.1 L879.6,628.0 L880.0,626.2 L880.3,623.0 L880.6,619.0 L881.0,614.2 L881.3,633.4 L881.7,611.1 L882.0,633.7 L882.3,634.0 L882.7,635.0 L883.0,630.9 L883.4,638.4 L883.7,623.3 L884.0,625.9 L884.4,620.4 L884.7,611.9 L885.1,625.1 L885.4,626.8 L885.7,625.7 L886.1,613.6 L886.4,617.0 L886.8,620.0 L887.1,623.6 L887.4,617.8 L887.8,621.9 L888.1,619.5 L888.5,614.5 L888.8,634.9 L889.1,626.3 L889.5,635.4 L889.8,623.7 L890.2,622.2 L890.5,615.0 L890.8,620.5 L891.2,610.9 L891.5,610.7 L891.9,601.9 L892.2,597.7 L892.5,589.5 L892.9,578.6 L893.2,566.5 L893.6,554.7 L893.9,541.3 L894.2,525.2 L894.6,506.0 L894.9,486.1 L895.3,464.7 L895.6,442.6 L895.9,416.0 L896.3,392.6 L896.6,368.8 L897.0,344.7 L897.3,319.5 L897.6,299.4 L898.0,278.7 L898.3,262.2 L898.7,245.0 L899.0,238.6 L899.3,230.6 L899.7,235.2 L900.0,237.7 L900.4,250.6 L900.7,258.9 L901.0,275.5 L901.4,297.9 L901.7,318.3 L902.1,345.2 L902.4,369.2 L902.7,391.2 L903.1,417.9 L903.4,441.4 L903.8,464.7 L904.1,491.7 L904.4,509.3 L904.8,528.5 L905.1,542.1 L905.5,554.8 L905.8,568.4 L906.1,581.5 L906.5,588.7 L906.8,592.8 L907.2,603.5 L907.5,608.4 L907.8,614.7 L908.2,606.7 L908.5,625.8 L908.9,619.6 L909.2,618.6 L909.5,617.7 L909.9,633.7 L910.2,618.5 L910.6,620.0 L910.9,637.3 L911.2,625.9 L911.6,613.3 L911.9,616.3 L912.3,634.7 L912.6,623.2 L912.9,623.1 L913.3,623.2 L913.6,641.8 L914.0,628.1 L914.3,639.8 L914.6,637.0 L915.0,636.9 L915.3,636.6 L915.7,624.1 L916.0,638.0 L916.3,628.9 L916.7,619.7 L917.0,621.8 L917.4,630.1 L917.7,628.8 L918.0,643.3 L918.4,632.9 L918.7,633.0 L919.1,615.1 L919.4,616.0 L919.7,623.6 L920.1,628.0 L920.4,642.1 L920.8,617.6 L921.1,635.6 L921.4,632.4 L921.8,622.8 L922.1,638.6 L922.5,624.0 L922.8,631.9 L923.1,618.4 L923.5,619.7 L923.8,618.4 L924.2,614.6 L924.5,607.4 L924.8,605.0 L925.2,607.4 L925.5,609.4 L925.9,607.6 L926.2,616.4 L926.5,623.7 L926.9,618.0 L927.2,626.7 L927.6,633.0 L927.9,625.7 L928.2,634.4 L928.6,636.5 L928.9,618.7 L929.3,625.0 L929.6,623.7 L929.9,638.7 L930.3,632.9 L930.6,619.8 L931.0,627.4 L931.3,624.1 L931.6,642.9 L932.0,640.6 L932.3,640.1 L932.7,619.2 L933.0,627.7 L933.3,629.6 L933.7,626.2 L934.0,642.1 L934.4,630.2 L934.7,638.9 L935.0,633.9 L935.4,629.0 L935.7,620.8 L936.1,642.2 L936.4,631.2 L936.7,620.9 L937.1,631.2 L937.4,620.5 L937.8,627.4 L938.1,644.6 L938.4,628.1 L938.8,627.9 L939.1,627.3 L939.5,634.2 L939.8,632.0 L940.1,629.3 L940.5,643.0 L940.8,631.3 L941.2,642.3 L941.5,629.8 L941.8,628.6 L942.2,624.7 L942.5,622.0 L942.9,634.0 L943.2,628.3 L943.5,622.9 L943.9,632.6 L944.2,638.5 L944.6,635.8 L944.9,618.8 L945.2,628.2 L945.6,637.1 L945.9,629.0 L946.3,630.1 L946.6,640.0 L946.9,623.4 L947.3,624.1 L947.6,638.2 L948.0,641.4 L948.3,624.5 L948.6,622.5 L949.0,637.9 L949.3,632.6 L949.7,626.2 L950.0,622.3 L950.3,632.2 L950.7,624.2 L951.0,638.8 L951.4,638.9 L951.7,635.6 L952.0,640.4 L952.4,626.4 L952.7,621.7 L953.1,633.5 L953.4,624.1 L953.7,634.2 L954.1,619.2 L954.4,626.0 L954.8,632.9 L955.1,638.0 L955.4,619.3 L955.8,627.3 L956.1,636.5 L956.5,618.1 L956.8,624.1 L957.1,627.5 L957.5,620.2 L957.8,622.7 L958.2,613.0 L958.5,608.4 L958.8,602.7 L959.2,599.6 L959.5,597.4 L959.9,591.5 L960.2,581.4 L960.5,577.1 L960.9,573.7 L961.2,576.2 L961.6,572.6 L961.9,573.2 L962.2,578.4 L962.6,579.8 L962.9,584.6 L963.3,591.7 L963.6,598.2 L963.9,599.1 L964.3,604.2 L964.6,607.6 L965.0,620.2 L965.3,619.1 L965.6,626.8 L966.0,616.5 L966.3,633.4 L966.7,621.5 L967.0,630.6 L967.3,621.3 L967.7,629.0 L968.0,636.7 L968.4,622.0 L968.7,643.8 L969.0,640.4 L969.4,636.0 L969.7,637.7 L970.1,625.3 L970.4,621.3 L970.7,626.2 L971.1,622.1 L971.4,626.4 L971.8,638.0 L972.1,623.0 L972.4,621.1 L972.8,638.7 L973.1,641.9 L973.5,628.3 L973.8,624.7 L974.1,639.9 L974.5,622.1 L974.8,627.4 L975.2,637.5 L975.5,635.7 L975.8,636.5 L976.2,629.7 L976.5,635.1 L976.9,626.5 L977.2,639.1 L977.5,637.2 L977.9,641.0 L978.2,636.6 L978.6,635.6 L978.9,623.9 L979.2,631.7 L979.6,620.9 L979.9,640.4 L980.3,637.4 L980.6,630.8 L980.9,638.3 L981.3,639.2 L981.6,625.9 L982.0,634.2 L982.3,619.2 L982.6,616.8 L983.0,636.6 L983.3,621.7 L983.7,627.0 L984.0,629.4 L984.3,640.5 L984.7,636.4 L985.0,630.7 L985.4,637.0 L985.7,623.4 L986.0,619.5 L986.4,623.5 L986.7,631.7 L987.1,625.4 L987.4,641.0 L987.7,630.5 L988.1,630.8 L988.4,634.8 L988.8,629.5 L989.1,620.8 L989.4,621.3 L989.8,627.8 L990.1,622.2 L990.5,620.7 L990.8,625.1 L991.1,636.5 L991.5,638.5 L991.8,621.2 L992.2,619.1 L992.5,613.8 L992.8,612.9 L993.2,624.4 L993.5,618.8 L993.9,628.8 L994.2,616.7 L994.5,632.5 L994.9,630.3 L995.2,640.7 L995.6,637.4 L995.9,617.1 L996.2,629.7 L996.6,624.7 L996.9,616.1 L997.3,629.8 L997.6,642.8 L997.9,619.7 L998.3,616.5 L998.6,621.1 L999.0,626.5 L999.3,622.6 L999.6,634.3 L1000.0,622.4 L1000.3,639.7 L1000.7,618.7 L1001.0,619.2 L1001.3,642.4 L1001.7,616.8 L1002.0,635.2 L1002.4,616.8 L1002.7,618.7 L1003.0,631.0 L1003.4,636.0 L1003.7,630.5 L1004.1,639.6 L1004.4,639.1 L1004.7,617.7 L1005.1,626.5 L1005.4,626.6 L1005.8,617.9 L1006.1,631.1 L1006.4,636.0 L1006.8,633.0 L1007.1,634.3 L1007.5,619.3 L1007.8,628.9 L1008.1,616.4 L1008.5,633.9 L1008.8,638.2 L1009.2,627.0 L1009.5,627.5 L1009.8,633.3 L1010.2,637.4 L1010.5,614.2 L1010.9,633.7 L1011.2,637.6 L1011.5,617.8 L1011.9,620.5 L1012.2,625.9 L1012.6,629.6 L1012.9,625.4 L1013.2,629.0 L1013.6,623.1 L1013.9,624.1 L1014.3,620.3 L1014.6,631.9 L1014.9,642.0 L1015.3,643.9 L1015.6,622.3 L1016.0,610.4 L1016.3,631.5 L1016.6,643.4 L1017.0,643.5 L1017.3,633.6 L1017.7,622.7 L1018.0,614.3 L1018.3,625.4 L1018.7,632.4 L1019.0,634.8 L1019.4,632.5 L1019.7,636.8 L1020.0,616.4 L1020.4,627.1 L1020.7,625.2 L1021.1,626.6 L1021.4,625.6 L1021.7,629.7 L1022.1,615.9 L1022.4,613.4 L1022.8,624.9 L1023.1,629.1 L1023.4,624.6 L1023.8,627.0 L1024.1,624.0 L1024.5,635.8 L1024.8,635.8 L1025.1,617.8 L1025.5,630.3 L1025.8,627.2 L1026.2,615.5 L1026.5,616.3 L1026.8,636.0 L1027.2,633.0 L1027.5,618.4 L1027.9,629.1 L1028.2,638.0 L1028.5,627.2 L1028.9,629.4 L1029.2,631.5 L1029.6,627.3 L1029.9,636.8 L1030.2,621.7 L1030.6,621.0 L1030.9,618.3 L1031.3,625.3 L1031.6,622.7 L1031.9,626.5 L1032.3,619.0 L1032.6,626.1 L1033.0,626.4 L1033.3,621.7 L1033.6,635.2 L1034.0,626.7 L1034.3,629.5 L1034.7,641.3 L1035.0,639.3 L1035.3,631.5 L1035.7,614.1 L1036.0,631.4 L1036.4,621.8 L1036.7,620.6 L1037.0,630.0 L1037.4,619.6 L1037.7,634.1 L1038.1,635.0 L1038.4,619.9 L1038.7,620.4 L1039.1,637.6 L1039.4,618.7 L1039.8,633.4 L1040.1,631.9 L1040.4,630.7 L1040.8,617.4 L1041.1,635.9 L1041.5,619.5 L1041.8,634.2 L1042.1,624.9 L1042.5,620.4 L1042.8,616.1 L1043.2,611.5 L1043.5,615.7 L1043.8,612.0 L1044.2,608.6 L1044.5,620.0 L1044.9,623.1 L1045.2,611.5 L1045.5,612.5 L1045.9,609.6 L1046.2,598.6 L1046.6,597.3 L1046.9,593.8 L1047.2,589.6 L1047.6,590.1 L1047.9,587.0 L1048.3,583.6 L1048.6,588.4 L1048.9,584.2 L1049.3,585.6 L1049.6,591.8 L1050.0,592.8 L1050.3,597.4 L1050.6,598.2 L1051.0,601.7 L1051.3,605.7 L1051.7,609.0 L1052.0,613.6 L1052.3,613.8 L1052.7,614.6 L1053.0,628.7 L1053.4,615.3 L1053.7,622.8 L1054.0,618.0 L1054.4,631.9 L1054.7,628.0 L1055.1,628.5 L1055.4,624.2 L1055.7,625.0 L1056.1,639.3 L1056.4,624.5 L1056.8,630.7 L1057.1,616.5 L1057.4,627.3 L1057.8,633.1 L1058.1,626.1 L1058.5,632.1 L1058.8,630.5 L1059.1,617.5 L1059.5,626.4 L1059.8,615.1 L1060.2,616.4 L1060.5,630.5 L1060.8,619.5 L1061.2,614.9 L1061.5,626.0 L1061.9,631.3 L1062.2,621.1 L1062.5,618.9 L1062.9,620.0 L1063.2,615.0 L1063.6,615.6 L1063.9,625.6 L1064.2,620.0 L1064.6,624.7 L1064.9,635.7 L1065.3,633.0 L1065.6,633.2 L1065.9,635.1 L1066.3,629.4 L1066.6,624.7 L1067.0,617.7 L1067.3,629.9 L1067.6,618.2 L1068.0,621.7 L1068.3,621.0 L1068.7,632.9 L1069.0,631.4 L1069.3,619.8 L1069.7,621.7 L1070.0,623.2 L1070.4,615.0 L1070.7,614.1 L1071.0,622.8 L1071.4,620.5 L1071.7,621.7 L1072.1,624.5 L1072.4,611.6 L1072.7,621.3 L1073.1,609.6 L1073.4,617.5 L1073.8,605.8 L1074.1,606.7 L1074.4,608.5 L1074.8,601.7 L1075.1,600.0 L1075.5,600.3 L1075.8,600.2 L1076.1,604.1 L1076.5,599.8 L1076.8,603.9 L1077.2,606.6 L1077.5,600.2 L1077.8,604.3 L1078.2,613.1 L1078.5,611.4 L1078.9,607.2 L1079.2,613.7 L1079.5,613.7 L1079.9,621.6 L1080.2,622.4 L1080.6,615.7 L1080.9,627.7 L1081.2,611.4 L1081.6,628.4 L1081.9,613.0 L1082.3,623.3 L1082.6,620.7 L1082.9,629.3 L1083.3,622.5 L1083.6,617.7 L1084.0,627.9 L1084.3,620.3 L1084.6,621.4 L1085.0,630.7 L1085.3,619.5 L1085.7,624.0 L1086.0,630.8 L1086.3,631.3 L1086.7,627.8 L1087.0,628.4 L1087.4,610.5 L1087.7,624.3 L1088.0,625.6 L1088.4,611.3 L1088.7,632.5 L1089.1,627.3 L1089.4,610.1 L1089.7,610.9 L1090.1,610.5 L1090.4,612.2 L1090.8,625.2 L1091.1,611.5 L1091.4,620.6 L1091.8,617.6 L1092.1,626.9 L1092.5,628.4 L1092.8,626.7 L1093.1,625.7 L1093.5,624.8 L1093.8,630.3 L1094.2,623.5 L1094.5,617.2 L1094.8,614.7 L1095.2,626.4 L1095.5,632.2 L1095.9,629.9 L1096.2,629.7 L1096.5,631.9 L1096.9,612.6 L1097.2,634.2 L1097.6,611.3 L1097.9,625.6 L1098.2,621.6 L1098.6,614.1 L1098.9,625.9 L1099.3,613.9 L1099.6,612.4 L1099.9,629.3 L1100.3,633.7 L1100.6,622.7 L1101.0,631.6 L1101.3,635.4 L1101.6,630.0 L1102.0,622.5 L1102.3,636.0 L1102.7,619.0 L1103.0,618.9 L1103.3,629.1 L1103.7,633.6 L1104.0,619.4 L1104.4,620.5 L1104.7,614.4 L1105.0,615.7 L1105.4,620.8 L1105.7,615.5 L1106.1,613.6 L1106.4,632.3 L1106.7,635.2 L1107.1,615.9 L1107.4,620.9 L1107.8,612.6 L1108.1,622.8 L1108.4,615.1 L1108.8,626.3 L1109.1,628.3 L1109.5,629.0 L1109.8,614.8 L1110.1,630.4 L1110.5,631.2 L1110.8,619.0 L1111.2,634.4 L1111.5,620.6 L1111.8,618.4 L1112.2,615.5 L1112.5,636.5 L1112.9,637.6 L1113.2,632.6 L1113.5,619.1 L1113.9,615.7 L1114.2,633.9 L1114.6,633.9 L1114.9,630.1 L1115.2,610.5 L1115.6,612.7 L1115.9,626.6 L1116.3,611.4 L1116.6,632.7 L1116.9,636.6 L1117.3,636.5 L1117.6,632.9 L1118.0,612.7 L1118.3,614.9 L1118.6,636.8 L1119.0,625.7 L1119.3,615.4 L1119.7,613.0 L1120.0,615.6 L1120.3,634.5 L1120.7,619.9 L1121.0,631.0 L1121.4,636.1 L1121.7,621.2 L1122.0,635.8 L1122.4,634.4 L1122.7,615.8 L1123.1,615.8 L1123.4,634.7 L1123.7,633.1 L1124.1,632.7 L1124.4,628.6 L1124.8,636.2 L1125.1,622.4 L1125.4,632.6 L1125.8,631.4 L1126.1,622.7 L1126.5,619.4 L1126.8,615.3 L1127.1,635.5 L1127.5,632.0 L1127.8,630.0 L1128.2,618.4 L1128.5,631.4 L1128.8,616.9 L1129.2,627.1 L1129.5,615.9 L1129.9,622.9 L1130.2,626.5 L1130.5,628.9 L1130.9,633.4 L1131.2,634.4 L1131.6,629.9 L1131.9,614.4 L1132.2,621.7 L1132.6,629.0 L1132.9,632.1 L1133.3,615.6 L1133.6,622.1 L1133.9,633.3 L1134.3,633.1 L1134.6,632.2 L1135.0,617.6 L1135.3,620.5 L1135.6,633.3 L1136.0,633.2 L1136.3,634.3 L1136.7,628.3 L1137.0,628.6 L1137.3,617.8 L1137.7,628.6 L1138.0,617.7 L1138.4,631.7 L1138.7,626.1 L1139.0,617.8 L1139.4,614.1 L1139.7,613.4 L1140.1,614.2 L1140.4,633.1 L1140.7,620.0 L1141.1,625.0 L1141.4,614.4 L1141.8,632.3 L1142.1,634.2 L1142.4,623.8 L1142.8,633.2 L1143.1,633.6 L1143.5,627.3 L1143.8,614.8 L1144.1,627.1 L1144.5,615.7 L1144.8,632.9 L1145.2,633.1 L1145.5,615.5 L1145.8,619.8 L1146.2,628.3 L1146.5,617.1 L1146.9,632.6 L1147.2,623.6 L1147.5,627.3 L1147.9,622.4 L1148.2,631.2 L1148.6,630.6 L1148.9,630.7 L1149.2,620.3 L1149.6,620.1 L1149.9,617.4 L1150.3,631.9 L1150.6,614.5 L1150.9,620.0 L1151.3,612.7 L1151.6,626.6 L1152.0,633.1 L1152.3,624.1 L1152.6,613.2 L1153.0,620.2 L1153.3,627.1 L1153.7,616.1 L1154.0,623.8 L1154.3,619.8 L1154.7,613.2 L1155.0,630.5 L1155.4,618.4 L1155.7,615.5 L1156.0,627.4 L1156.4,621.7 L1156.7,618.4 L1157.1,611.6 L1157.4,636.4 L1157.7,625.8 L1158.1,621.5 L1158.4,625.6 L1158.8,621.8 L1159.1,630.9 L1159.4,632.8 L1159.8,616.9 L1160.1,634.2 L1160.5,616.9 L1160.8,626.6 L1161.1,634.3 L1161.5,628.2 L1161.8,611.7 L1162.2,626.3 L1162.5,632.4 L1162.8,613.5 L1163.2,617.1 L1163.5,621.4 L1163.9,621.1 L1164.2,635.8 L1164.5,615.7 L1164.9,617.4 L1165.2,626.4 L1165.6,616.4 L1165.9,625.8 L1166.2,626.0 L1166.6,624.2 L1166.9,621.8 L1167.3,622.6 L1167.6,620.8 L1167.9,621.0 L1168.3,620.2 L1168.6,619.2 L1169.0,616.2 L1169.3,624.7 L1169.6,625.9 L1170.0,624.3 L1170.3,623.2 L1170.7,632.2 L1171.0,635.4 L1171.3,611.0 L1171.7,620.3 L1172.0,622.1 L1172.4,611.8 L1172.7,618.2 L1173.0,620.6 L1173.4,610.1 L1173.7,621.0 L1174.1,611.7 L1174.4,620.2 L1174.7,614.5 L1175.1,611.9 L1175.4,611.0 L1175.8,623.1 L1176.1,609.7 L1176.4,620.1 L1176.8,611.6 L1177.1,627.3 L1177.5,626.3 L1177.8,614.2 L1178.1,619.3 L1178.5,628.0 L1178.8,613.4 L1179.2,629.9 L1179.5,626.1 L1179.8,632.2 L1180.2,624.5 L1180.5,610.3 L1180.9,619.8 L1181.2,625.9 L1181.5,621.3 L1181.9,618.5 L1182.2,615.1 L1182.6,625.6 L1182.9,612.3 L1183.2,627.0 L1183.6,615.6 L1183.9,622.8 L1184.3,630.4 L1184.6,622.7 L1184.9,628.7 L1185.3,610.2 L1185.6,619.1 L1186.0,621.6 L1186.3,610.1 L1186.6,620.2 L1187.0,617.8 L1187.3,612.1 L1187.7,616.1 L1188.0,601.6 L1188.3,611.8 L1188.7,599.1 L1189.0,602.2 L1189.4,594.4 L1189.7,589.6 L1190.0,589.2 L1190.4,584.5 L1190.7,581.1 L1191.1,577.1 L1191.4,570.0 L1191.7,565.7 L1192.1,561.6 L1192.4,555.6 L1192.8,554.8 L1193.1,551.1 L1193.4,544.3 L1193.8,545.6 L1194.1,541.2 L1194.5,541.1 L1194.8,543.1 L1195.1,543.4 L1195.5,546.2 L1195.8,546.8 L1196.2,553.3 L1196.5,553.0 L1196.8,556.6 L1197.2,562.1 L1197.5,568.4 L1197.9,575.2 L1198.2,576.8 L1198.5,580.0 L1198.9,589.4 L1199.2,591.6 L1199.6,593.3 L1199.9,596.5 L1200.2,598.6 L1200.6,600.7 L1200.9,608.8 L1201.3,604.5 L1201.6,612.8 L1201.9,610.8 L1202.3,615.4 L1202.6,612.7 L1203.0,609.9 L1203.3,608.6 L1203.6,623.9 L1204.0,624.6 L1204.3,611.3 L1204.7,613.9 L1205.0,617.3 L1205.3,629.2 L1205.7,615.6 L1206.0,619.8 L1206.4,607.6 L1206.7,608.2 L1207.0,624.0 L1207.4,618.4 L1207.7,606.9 L1208.1,622.8 L1208.4,609.8 L1208.7,626.1 L1209.1,627.6 L1209.4,626.2 L1209.8,608.4 L1210.1,617.4 L1210.4,622.7 L1210.8,616.6 L1211.1,605.1 L1211.5,608.1 L1211.8,614.2 L1212.1,608.0 L1212.5,603.7 L1212.8,607.7 L1213.2,609.2 L1213.5,604.8 L1213.8,598.5 L1214.2,595.9 L1214.5,593.2 L1214.9,591.3 L1215.2,590.1 L1215.5,588.2 L1215.9,581.2 L1216.2,580.1 L1216.6,577.1 L1216.9,570.0 L1217.2,568.0 L1217.6,564.7 L1217.9,556.2 L1218.3,553.6 L1218.6,551.0 L1218.9,542.3 L1219.3,537.7 L1219.6,537.1 L1220.0,533.0 L1220.3,531.6 L1220.6,526.7 L1221.0,525.8 L1221.3,520.5 L1221.7,519.5 L1222.0,519.7 L1222.3,515.9 L1222.7,515.6 L1223.0,518.1 L1223.4,514.7 L1223.7,518.9 L1224.0,518.8 L1224.4,523.5 L1224.7,523.2 L1225.1,526.7 L1225.4,533.9 L1225.7,536.1 L1226.1,543.0 L1226.4,546.4 L1226.8,550.3 L1227.1,557.0 L1227.4,555.7 L1227.8,566.3 L1228.1,564.6 L1228.5,568.5 L1228.8,578.9 L1229.1,577.2 L1229.5,583.1 L1229.8,585.8 L1230.2,588.3 L1230.5,593.1 L1230.8,598.8 L1231.2,597.5 L1231.5,602.2 L1231.9,609.2 L1232.2,603.9 L1232.5,604.0 L1232.9,607.5 L1233.2,615.3 L1233.6,614.4 L1233.9,622.0 L1234.2,609.6 L1234.6,623.7 L1234.9,611.5 L1235.3,605.7 L1235.6,618.3 L1235.9,626.5 L1236.3,610.0 L1236.6,626.1 L1237.0,624.8 L1237.3,611.9 L1237.6,623.6 L1238.0,612.2 L1238.3,619.7 L1238.7,616.6 L1239.0,609.6 L1239.3,615.0 L1239.7,614.4 L1240.0,606.8 L1240.4,625.9 L1240.7,611.9 L1241.0,612.5 L1241.4,627.1 L1241.7,614.3 L1242.1,614.2 L1242.4,624.5 L1242.7,612.6 L1243.1,627.0 L1243.4,616.3 L1243.8,613.5 L1244.1,611.7 L1244.4,611.5 L1244.8,628.4 L1245.1,616.7 L1245.5,605.6 L1245.8,606.3 L1246.1,624.2 L1246.5,627.4 L1246.8,629.1 L1247.2,607.2 L1247.5,611.5 L1247.8,626.1 L1248.2,625.9 L1248.5,625.9 L1248.9,608.7 L1249.2,624.2 L1249.5,623.5 L1249.9,627.3 L1250.2,616.0 L1250.6,621.0 L1250.9,608.7 L1251.2,623.0 L1251.6,603.2 L1251.9,625.3 L1252.3,621.5 L1252.6,612.7 L1252.9,609.7 L1253.3,617.2 L1253.6,623.1 L1254.0,627.1 L1254.3,627.9 L1254.6,618.9 L1255.0,613.4 L1255.3,609.6 L1255.7,623.0 L1256.0,620.2 L1256.3,612.2 L1256.7,619.0 L1257.0,616.0 L1257.4,625.0 L1257.7,609.6 L1258.0,611.8 L1258.4,611.4 L1258.7,618.0 L1259.1,614.5 L1259.4,621.0 L1259.7,618.2 L1260.1,614.5 L1260.4,624.0 L1260.8,620.7 L1261.1,608.7 L1261.4,615.4 L1261.8,621.7 L1262.1,622.2 L1262.5,617.7 L1262.8,611.3 L1263.1,627.6 L1263.5,619.5 L1263.8,622.4 L1264.2,628.1 L1264.5,609.1 L1264.8,610.7 L1265.2,624.4 L1265.5,610.1 L1265.9,607.7 L1266.2,629.7 L1266.5,608.0 L1266.9,627.1 L1267.2,629.9 L1267.6,616.1 L1267.9,622.0 L1268.2,607.9 L1268.6,631.4 L1268.9,629.1 L1269.3,612.8 L1269.6,606.2 L1269.9,626.4 L1270.3,632.1 L1270.6,608.9 L1271.0,629.2 L1271.3,628.4 L1271.6,611.8 L1272.0,611.5 L1272.3,612.4 L1272.7,614.6 L1273.0,617.8 L1273.3,613.6 L1273.7,616.0 L1274.0,621.5 L1274.4,622.1 L1274.7,632.9 L1275.0,613.0 L1275.4,630.7 L1275.7,614.6 L1276.1,613.8 L1276.4,631.1 L1276.7,621.9 L1277.1,625.8 L1277.4,632.0 L1277.8,628.1 L1278.1,627.8 L1278.4,615.9 L1278.8,615.3 L1279.1,620.0 L1279.5,617.0 L1279.8,611.5 L1280.1,626.8 L1280.5,627.9 L1280.8,631.7 L1281.2,624.3 L1281.5,620.5 L1281.8,616.1 L1282.2,617.4 L1282.5,628.1 L1282.9,625.8 L1283.2,608.9 L1283.5,622.5 L1283.9,629.0 L1284.2,627.9 L1284.6,617.3 L1284.9,627.2 L1285.2,627.5 L1285.6,623.0 L1285.9,627.9 L1286.3,612.0 L1286.6,629.0 L1286.9,627.3 L1287.3,618.5 L1287.6,626.6 L1288.0,621.1 L1288.3,626.8 L1288.6,616.2 L1289.0,624.4 L1289.3,608.7 L1289.7,632.1 L1290.0,626.3 L1290.3,631.2 L1290.7,625.3 L1291.0,626.1 L1291.4,632.3 L1291.7,635.4 L1292.0,618.2 L1292.4,616.2 L1292.7,629.3 L1293.1,621.2 L1293.4,637.7 L1293.7,623.7 L1294.1,610.8 L1294.4,608.9 L1294.8,629.9 L1295.1,617.5 L1295.4,615.5 L1295.8,627.6 L1296.1,614.6 L1296.5,618.4 L1296.8,618.6 L1297.1,630.2 L1297.5,628.4 L1297.8,633.7 L1298.2,615.9 L1298.5,635.1 L1298.8,623.4 L1299.2,618.3 L1299.5,632.8 L1299.9,612.9 L1300.2,632.6 L1300.5,608.1 L1300.9,612.2 L1301.2,623.2 L1301.6,615.3 L1301.9,626.5 L1302.2,623.9 L1302.6,614.4 L1302.9,620.6 L1303.3,607.1 L1303.6,629.5 L1303.9,608.6 L1304.3,616.7 L1304.6,629.8 L1305.0,622.2 L1305.3,622.8 L1305.6,625.1 L1306.0,626.4 L1306.3,617.6 L1306.7,613.1 L1307.0,624.8 L1307.3,620.9 L1307.7,624.6 L1308.0,634.3 L1308.4,623.4 L1308.7,615.1 L1309.0,618.0 L1309.4,632.0 L1309.7,616.5 L1310.1,617.4 L1310.4,633.3 L1310.7,620.8 L1311.1,626.0 L1311.4,632.5 L1311.8,630.4 L1312.1,610.5 L1312.4,621.0 L1312.8,625.9 L1313.1,611.7 L1313.5,612.4 L1313.8,628.6 L1314.1,627.6 L1314.5,634.8 L1314.8,608.5 L1315.2,608.4 L1315.5,634.6 L1315.8,626.3 L1316.2,610.4 L1316.5,624.8 L1316.9,624.2 L1317.2,624.9 L1317.5,628.1 L1317.9,625.4 L1318.2,621.3 L1318.6,617.7 L1318.9,614.0 L1319.2,629.0 L1319.6,618.9 L1319.9,614.9 L1320.3,622.6 L1320.6,623.0 L1320.9,621.6 L1321.3,627.1 L1321.6,621.9 L1322.0,616.4 L1322.3,608.4 L1322.6,609.0 L1323.0,619.3 L1323.3,612.7 L1323.7,609.2 L1324.0,629.2 L1324.3,617.9 L1324.7,626.0 L1325.0,629.4 L1325.4,606.1 L1325.7,631.4 L1326.0,620.3 L1326.4,614.0 L1326.7,618.4 L1327.1,611.0 L1327.4,614.0 L1327.7,620.9 L1328.1,609.8 L1328.4,617.0 L1328.8,612.0 L1329.1,623.7 L1329.4,610.2 L1329.8,622.5 L1330.1,602.4 L1330.5,616.1 L1330.8,617.1 L1331.1,614.8 L1331.5,618.3 L1331.8,624.9 L1332.2,618.3 L1332.5,624.9 L1332.8,623.1 L1333.2,607.2 L1333.5,610.5 L1333.9,605.5 L1334.2,625.3 L1334.5,603.0 L1334.9,627.9 L1335.2,618.9 L1335.6,614.7 L1335.9,619.0 L1336.2,618.2 L1336.6,620.7 L1336.9,618.2 L1337.3,611.0 L1337.6,628.9 L1337.9,620.2 L1338.3,631.3 L1338.6,607.4 L1339.0,628.9 L1339.3,619.9 L1339.6,621.1 L1340.0,627.4 L1340.3,606.4 L1340.7,609.1 L1341.0,617.7 L1341.3,611.1 L1341.7,603.5 L1342.0,610.3 L1342.4,620.1 L1342.7,620.0 L1343.0,600.9 L1343.4,610.0 L1343.7,625.0 L1344.1,619.8 L1344.4,619.0 L1344.7,630.2 L1345.1,609.8 L1345.4,601.9 L1345.8,619.6 L1346.1,620.4 L1346.4,617.0 L1346.8,632.6 L1347.1,622.0 L1347.5,601.6 L1347.8,620.5 L1348.1,601.1 L1348.5,617.4 L1348.8,614.8 L1349.2,597.8 L1349.5,604.1 L1349.8,611.7 L1350.2,608.2 L1350.5,601.7 L1350.9,618.7 L1351.2,630.3 L1351.5,599.1 L1351.9,624.1 L1352.2,609.8 L1352.6,607.2 L1352.9,624.1 L1353.2,628.0 L1353.6,628.8 L1353.9,626.9 L1354.3,602.5 L1354.6,598.8 L1354.9,621.1 L1355.3,621.4 L1355.6,604.2 L1356.0,616.8 L1356.3,618.6 L1356.6,611.8 L1357.0,606.5 L1357.3,611.1 L1357.7,609.9 L1358.0,603.8 L1358.3,610.1 L1358.7,609.7 L1359.0,620.3 L1359.4,619.2 L1359.7,620.4 L1360.0,610.8 L1360.4,618.1 L1360.7,606.9 L1361.1,623.0 L1361.4,628.0 L1361.7,622.9 L1362.1,621.8 L1362.4,617.4 L1362.8,622.5 L1363.1,614.5 L1363.4,609.0 L1363.8,622.7 L1364.1,616.0 L1364.5,626.5 L1364.8,617.8 L1365.1,616.5 L1365.5,602.5 L1365.8,607.8 L1366.2,621.2 L1366.5,614.0 L1366.8,626.4 L1367.2,618.7 L1367.5,609.2 L1367.9,608.7 L1368.2,610.0 L1368.5,607.9 L1368.9,616.8 L1369.2,604.4 L1369.6,618.3 L1369.9,614.1 L1370.2,627.6 L1370.6,628.0 L1370.9,610.7 L1371.3,608.1 L1371.6,614.0 L1371.9,616.1 L1372.3,622.3 L1372.6,630.1 L1373.0,627.7 L1373.3,613.3 L1373.6,617.2 L1374.0,618.1 L1374.3,626.8 L1374.7,605.7 L1375.0,624.6 L1375.3,609.4 L1375.7,605.1 L1376.0,628.4 L1376.4,611.3 L1376.7,621.9 L1377.0,611.5 L1377.4,609.2 L1377.7,616.6 L1378.1,607.1 L1378.4,607.3 L1378.7,601.0 L1379.1,620.9 L1379.4,626.4 L1379.8,599.0 L1380.1,608.3 L1380.4,625.3 L1380.8,618.0 L1381.1,602.7 L1381.5,606.4 L1381.8,605.2 L1382.1,599.2 L1382.5,602.4 L1382.8,602.3 L1383.2,615.2 L1383.5,621.8 L1383.8,615.5 L1384.2,618.8 L1384.5,624.1 L1384.9,621.6 L1385.2,602.7 L1385.5,600.8 L1385.9,624.7 L1386.2,608.1 L1386.6,623.5 L1386.9,605.9 L1387.2,624.4 L1387.6,613.2 L1387.9,601.9 L1388.3,628.3 L1388.6,604.1 L1388.9,601.4 L1389.3,623.2 L1389.6,609.7 L1390.0,601.3 L1390.3,600.7 L1390.6,612.0 L1391.0,603.3 L1391.3,610.4 L1391.7,619.5 L1392.0,626.7 L1392.3,608.8 L1392.7,616.6 L1393.0,620.2 L1393.4,622.9 L1393.7,614.2 L1394.0,622.9 L1394.4,613.3 L1394.7,621.5 L1395.1,618.3 L1395.4,613.2 L1395.7,625.2 L1396.1,608.5 L1396.4,609.9 L1396.8,613.7 L1397.1,600.7 L1397.4,616.9 L1397.8,599.8 L1398.1,624.8 L1398.5,609.6 L1398.8,625.0 L1399.1,603.5 L1399.5,619.9 L1399.8,616.3 L1400.2,615.6 L1400.5,624.0 L1400.8,600.0 L1401.2,623.7 L1401.5,605.9 L1401.9,604.9 L1402.2,617.6 L1402.5,610.0 L1402.9,600.8 L1403.2,614.2 L1403.6,622.7 L1403.9,597.2 L1404.2,609.3 L1404.6,602.6 L1404.9,618.3 L1405.3,620.7 L1405.6,601.4 L1405.9,622.4 L1406.3,606.0 L1406.6,619.3 L1407.0,600.3 L1407.3,610.2 L1407.6,615.6 L1408.0,610.5 L1408.3,616.5 L1408.7,618.9 L1409.0,623.1 L1409.3,614.4 L1409.7,599.8 L1410.0,616.7 L1410.4,607.2 L1410.7,614.0 L1411.0,613.5 L1411.4,617.3 L1411.7,610.9 L1412.1,599.8 L1412.4,605.6 L1412.7,611.2 L1413.1,610.0 L1413.4,597.2 L1413.8,615.5 L1414.1,609.8 L1414.4,609.6 L1414.8,596.1 L1415.1,607.1 L1415.5,598.1 L1415.8,600.6 L1416.1,600.8 L1416.5,609.5 L1416.8,601.9 L1417.2,617.3 L1417.5,613.3 L1417.8,619.9 L1418.2,609.2 L1418.5,603.8 L1418.9,602.8 L1419.2,593.9 L1419.5,611.8 L1419.9,600.6 L1420.2,593.0 L1420.6,617.9 L1420.9,597.3 L1421.2,592.4 L1421.6,611.4 L1421.9,612.1 L1422.3,612.0 L1422.6,607.6 L1422.9,586.2 L1423.3,605.6 L1423.6,617.8 L1424.0,603.2 L1424.3,597.2 L1424.6,607.0 L1425.0,609.6 L1425.3,598.4 L1425.7,614.8 L1426.0,617.5 L1426.3,590.9 L1426.7,594.0 L1427.0,606.5 L1427.4,593.8 L1427.7,598.2 L1428.0,620.4 L1428.4,624.9 L1428.7,619.4 L1429.1,598.2 L1429.4,617.9 L1429.7,610.5 L1430.1,623.7 L1430.4,601.5 L1430.8,620.1 L1431.1,592.3 L1431.4,599.0 L1431.8,619.7 L1432.1,609.3 L1432.5,598.0 L1432.8,614.7 L1433.1,602.2 L1433.5,612.0 L1433.8,606.2 L1434.2,593.3 L1434.5,592.9 L1434.8,623.5 L1435.2,622.3 L1435.5,608.5 L1435.9,600.8 L1436.2,597.3 L1436.5,625.6 L1436.9,611.8 L1437.2,594.1 L1437.6,614.8 L1437.9,619.3 L1438.2,604.5 L1438.6,627.3 L1438.9,596.7 L1439.3,598.4 L1439.6,615.0 L1439.9,610.1 L1440.3,607.1 L1440.6,618.9 L1441.0,627.7 L1441.3,625.3 L1441.6,620.4 L1442.0,604.8 L1442.3,605.4 L1442.7,601.4 L1443.0,626.4 L1443.3,619.0 L1443.7,615.3 L1444.0,599.2 L1444.4,625.3 L1444.7,602.1 L1445.0,613.2 L1445.4,628.2 L1445.7,608.9 L1446.1,611.9 L1446.4,628.3 L1446.7,607.2 L1447.1,612.0 L1447.4,609.8 L1447.8,610.6 L1448.1,611.3 L1448.4,628.5 L1448.8,622.7 L1449.1,598.3 L1449.5,616.7 L1449.8,597.3"/></defs>
<use href="#rc" stroke="#c4121c" stroke-width="6.6"/>
<use href="#rc" stroke="#f80000" stroke-width="4.6"/>
<path d="M100.0,899.2 L100.3,899.8 L100.7,913.5 L101.0,894.9 L101.4,907.0 L101.7,910.9 L102.0,896.5 L102.4,893.1 L102.7,898.4 L103.1,908.4 L103.4,905.7 L103.7,894.6 L104.1,902.1 L104.4,907.8 L104.8,901.8 L105.1,906.6 L105.4,912.8 L105.8,907.3 L106.1,900.9 L106.5,895.2 L106.8,899.9 L107.1,904.5 L107.5,911.1 L107.8,909.2 L108.2,900.0 L108.5,912.3 L108.8,904.0 L109.2,908.5 L109.5,895.4 L109.9,895.3 L110.2,897.8 L110.5,913.3 L110.9,909.2 L111.2,913.1 L111.6,908.9 L111.9,903.7 L112.2,906.5 L112.6,908.3 L112.9,914.1 L113.3,905.2 L113.6,915.0 L113.9,909.4 L114.3,914.1 L114.6,907.3 L115.0,911.6 L115.3,904.1 L115.6,908.3 L116.0,901.8 L116.3,899.6 L116.7,898.5 L117.0,913.5 L117.3,907.8 L117.7,918.9 L118.0,917.6 L118.4,906.8 L118.7,921.6 L119.0,911.9 L119.4,916.4 L119.7,907.9 L120.1,903.6 L120.4,903.4 L120.7,904.0 L121.1,913.8 L121.4,903.1 L121.8,901.2 L122.1,919.8 L122.4,903.7 L122.8,912.5 L123.1,913.9 L123.5,917.2 L123.8,915.2 L124.1,925.0 L124.5,921.6 L124.8,918.2 L125.2,919.6 L125.5,917.6 L125.8,928.5 L126.2,910.7 L126.5,923.0 L126.9,920.5 L127.2,907.7 L127.5,915.0 L127.9,929.6 L128.2,927.0 L128.6,910.4 L128.9,917.5 L129.2,912.0 L129.6,930.0 L129.9,915.5 L130.3,915.1 L130.6,935.3 L130.9,923.6 L131.3,921.6 L131.6,917.0 L132.0,923.8 L132.3,923.8 L132.6,927.2 L133.0,917.7 L133.3,920.8 L133.7,922.4 L134.0,927.2 L134.3,925.0 L134.7,931.5 L135.0,925.6 L135.4,938.4 L135.7,939.9 L136.0,922.9 L136.4,926.0 L136.7,933.0 L137.1,938.1 L137.4,924.4 L137.7,926.9 L138.1,932.4 L138.4,937.9 L138.8,944.4 L139.1,944.0 L139.4,942.5 L139.8,924.7 L140.1,948.2 L140.5,939.2 L140.8,926.1 L141.1,930.8 L141.5,940.6 L141.8,935.0 L142.2,937.1 L142.5,946.6 L142.8,947.4 L143.2,940.9 L143.5,947.4 L143.9,938.4 L144.2,952.4 L144.5,944.1 L144.9,952.9 L145.2,931.4 L145.6,951.6 L145.9,944.8 L146.2,948.6 L146.6,936.6 L146.9,945.9 L147.3,939.8 L147.6,935.2 L147.9,932.7 L148.3,955.6 L148.6,950.9 L149.0,939.3 L149.3,941.3 L149.6,947.6 L150.0,956.2 L150.3,938.9 L150.7,960.0 L151.0,959.6 L151.3,943.4 L151.7,953.3 L152.0,946.9 L152.4,955.0 L152.7,940.8 L153.0,950.3 L153.4,953.2 L153.7,954.3 L154.1,956.0 L154.4,960.7 L154.7,946.6 L155.1,945.3 L155.4,950.4 L155.8,954.2 L156.1,962.7 L156.4,957.6 L156.8,958.3 L157.1,963.4 L157.5,950.6 L157.8,950.7 L158.1,953.2 L158.5,951.5 L158.8,958.1 L159.2,965.2 L159.5,949.3 L159.8,955.8 L160.2,959.9 L160.5,955.7 L160.9,965.9 L161.2,961.9 L161.5,965.6 L161.9,948.7 L162.2,950.5 L162.6,948.0 L162.9,965.1 L163.2,968.5 L163.6,947.2 L163.9,964.8 L164.3,963.5 L164.6,968.1 L164.9,953.6 L165.3,963.8 L165.6,953.4 L166.0,950.4 L166.3,965.1 L166.6,950.3 L167.0,964.2 L167.3,955.6 L167.7,959.8 L168.0,968.7 L168.3,955.3 L168.7,960.1 L169.0,958.0 L169.4,954.8 L169.7,960.8 L170.0,954.8 L170.4,967.4 L170.7,963.9 L171.1,956.8 L171.4,970.7 L171.7,958.3 L172.1,965.2 L172.4,966.4 L172.8,956.7 L173.1,951.0 L173.4,969.9 L173.8,971.3 L174.1,955.7 L174.5,955.7 L174.8,961.4 L175.1,964.8 L175.5,973.3 L175.8,972.9 L176.2,973.6 L176.5,958.7 L176.8,965.3 L177.2,962.2 L177.5,958.8 L177.9,956.0 L178.2,957.9 L178.5,961.2 L178.9,956.8 L179.2,957.9 L179.6,956.3 L179.9,966.5 L180.2,963.9 L180.6,959.8 L180.9,964.6 L181.3,962.9 L181.6,967.2 L181.9,972.3 L182.3,961.6 L182.6,967.1 L183.0,958.9 L183.3,973.0 L183.6,966.9 L184.0,957.2 L184.3,959.2 L184.7,956.9 L185.0,957.3 L185.3,960.3 L185.7,972.6 L186.0,963.9 L186.4,959.8 L186.7,963.2 L187.0,959.9 L187.4,970.9 L187.7,955.8 L188.1,960.9 L188.4,961.7 L188.7,959.0 L189.1,971.1 L189.4,959.3 L189.8,961.7 L190.1,957.1 L190.4,971.8 L190.8,962.9 L191.1,969.4 L191.5,960.1 L191.8,956.3 L192.1,962.0 L192.5,972.5 L192.8,974.0 L193.2,962.5 L193.5,974.2 L193.8,956.8 L194.2,965.9 L194.5,960.6 L194.9,964.1 L195.2,959.8 L195.5,975.4 L195.9,961.3 L196.2,976.7 L196.6,957.7 L196.9,963.8 L197.2,964.1 L197.6,970.6 L197.9,962.4 L198.3,965.0 L198.6,957.8 L198.9,961.8 L199.3,971.2 L199.6,958.1 L200.0,964.3 L200.3,960.2 L200.6,958.8 L201.0,957.8 L201.3,973.6 L201.7,970.1 L202.0,962.7 L202.3,962.9 L202.7,970.8 L203.0,967.7 L203.4,974.7 L203.7,974.5 L204.0,965.0 L204.4,968.8 L204.7,966.4 L205.1,961.0 L205.4,964.5 L205.7,970.2 L206.1,967.0 L206.4,968.8 L206.8,966.3 L207.1,977.6 L207.4,977.7 L207.8,970.2 L208.1,986.3 L208.5,983.2 L208.8,976.4 L209.1,964.3 L209.5,964.2 L209.8,961.9 L210.2,958.5 L210.5,965.6 L210.8,974.6 L211.2,972.5 L211.5,969.9 L211.9,974.2 L212.2,969.7 L212.5,959.9 L212.9,972.9 L213.2,963.0 L213.6,974.7 L213.9,962.1 L214.2,956.9 L214.6,971.1 L214.9,957.6 L215.3,974.2 L215.6,964.3 L215.9,972.3 L216.3,957.0 L216.6,967.2 L217.0,970.1 L217.3,958.6 L217.6,968.6 L218.0,958.9 L218.3,962.3 L218.7,963.6 L219.0,968.6 L219.3,958.9 L219.7,960.1 L220.0,970.8 L220.4,969.6 L220.7,965.4 L221.0,961.9 L221.4,968.8 L221.7,965.4 L222.1,962.2 L222.4,971.6 L222.7,959.8 L223.1,970.6 L223.4,967.6 L223.8,968.0 L224.1,968.6 L224.4,969.8 L224.8,972.2 L225.1,973.0 L225.5,960.6 L225.8,958.8 L226.1,972.5 L226.5,959.3 L226.8,959.5 L227.2,970.4 L227.5,973.2 L227.8,970.6 L228.2,964.1 L228.5,961.3 L228.9,971.6 L229.2,966.2 L229.5,963.1 L229.9,952.3 L230.2,953.1 L230.6,948.7 L230.9,957.1 L231.2,946.6 L231.6,944.1 L231.9,946.7 L232.3,943.6 L232.6,948.2 L232.9,955.8 L233.3,957.9 L233.6,951.9 L234.0,964.4 L234.3,957.6 L234.6,960.7 L235.0,958.4 L235.3,970.9 L235.7,958.7 L236.0,966.6 L236.3,964.4 L236.7,965.8 L237.0,954.6 L237.4,962.8 L237.7,972.1 L238.0,963.3 L238.4,955.4 L238.7,952.0 L239.1,958.0 L239.4,967.0 L239.7,950.3 L240.1,950.4 L240.4,965.0 L240.8,969.9 L241.1,959.8 L241.4,964.2 L241.8,954.6 L242.1,954.9 L242.5,960.4 L242.8,953.1 L243.1,959.6 L243.5,950.9 L243.8,971.5 L244.2,964.5 L244.5,949.0 L244.8,951.7 L245.2,969.0 L245.5,956.7 L245.9,953.4 L246.2,946.3 L246.5,965.1 L246.9,962.2 L247.2,970.0 L247.6,950.5 L247.9,967.6 L248.2,969.8 L248.6,969.7 L248.9,967.3 L249.3,958.1 L249.6,947.4 L249.9,963.8 L250.3,946.6 L250.6,948.1 L251.0,956.7 L251.3,948.5 L251.6,957.7 L252.0,968.4 L252.3,949.2 L252.7,966.4 L253.0,971.2 L253.3,944.3 L253.7,955.8 L254.0,962.8 L254.4,962.9 L254.7,950.6 L255.0,963.0 L255.4,951.8 L255.7,946.0 L256.1,952.3 L256.4,951.0 L256.7,950.1 L257.1,943.2 L257.4,932.2 L257.8,931.8 L258.1,925.2 L258.4,923.4 L258.8,916.3 L259.1,920.2 L259.5,922.9 L259.8,921.9 L260.1,926.6 L260.5,937.5 L260.8,944.0 L261.2,940.3 L261.5,954.8 L261.8,949.1 L262.2,952.9 L262.5,953.5 L262.9,952.5 L263.2,963.9 L263.5,958.4 L263.9,965.6 L264.2,959.1 L264.6,965.7 L264.9,957.0 L265.2,956.2 L265.6,958.3 L265.9,946.5 L266.3,962.6 L266.6,948.9 L266.9,966.1 L267.3,946.2 L267.6,960.9 L268.0,962.0 L268.3,957.5 L268.6,946.0 L269.0,962.8 L269.3,951.7 L269.7,950.7 L270.0,960.8 L270.3,967.6 L270.7,945.1 L271.0,954.4 L271.4,960.8 L271.7,950.0 L272.0,967.9 L272.4,958.6 L272.7,944.7 L273.1,946.7 L273.4,946.4 L273.7,954.2 L274.1,965.3 L274.4,945.7 L274.8,946.7 L275.1,948.0 L275.4,956.3 L275.8,952.9 L276.1,952.5 L276.5,946.0 L276.8,961.5 L277.1,953.6 L277.5,962.4 L277.8,942.2 L278.2,952.7 L278.5,950.3 L278.8,962.0 L279.2,958.3 L279.5,953.8 L279.9,944.1 L280.2,957.8 L280.5,963.2 L280.9,960.0 L281.2,964.6 L281.6,954.8 L281.9,947.1 L282.2,944.1 L282.6,959.4 L282.9,959.6 L283.3,955.2 L283.6,958.6 L283.9,951.2 L284.3,960.3 L284.6,956.3 L285.0,943.2 L285.3,953.4 L285.6,955.1 L286.0,941.9 L286.3,961.7 L286.7,958.1 L287.0,940.4 L287.3,942.6 L287.7,936.5 L288.0,959.5 L288.4,941.3 L288.7,956.7 L289.0,950.1 L289.4,938.1 L289.7,942.2 L290.1,943.3 L290.4,954.7 L290.7,946.1 L291.1,940.7 L291.4,958.2 L291.8,949.6 L292.1,938.7 L292.4,958.5 L292.8,952.6 L293.1,947.6 L293.5,940.0 L293.8,952.9 L294.1,938.7 L294.5,958.3 L294.8,954.5 L295.2,953.8 L295.5,955.3 L295.8,957.8 L296.2,948.0 L296.5,956.9 L296.9,940.4 L297.2,954.0 L297.5,955.3 L297.9,942.4 L298.2,940.1 L298.6,959.2 L298.9,958.3 L299.2,939.6 L299.6,950.5 L299.9,941.1 L300.3,941.6 L300.6,958.4 L300.9,952.1 L301.3,954.4 L301.6,943.1 L302.0,955.1 L302.3,952.4 L302.6,944.0 L303.0,947.8 L303.3,940.6 L303.7,950.5 L304.0,937.6 L304.3,946.0 L304.7,957.6 L305.0,951.9 L305.4,950.2 L305.7,934.2 L306.0,955.1 L306.4,950.1 L306.7,957.1 L307.1,956.4 L307.4,956.1 L307.7,948.0 L308.1,952.7 L308.4,935.7 L308.8,934.6 L309.1,953.4 L309.4,951.0 L309.8,957.5 L310.1,942.2 L310.5,946.8 L310.8,953.9 L311.1,949.4 L311.5,955.3 L311.8,944.2 L312.2,954.9 L312.5,955.1 L312.8,955.8 L313.2,944.0 L313.5,955.5 L313.9,942.0 L314.2,948.1 L314.5,956.9 L314.9,949.2 L315.2,947.9 L315.6,942.8 L315.9,945.9 L316.2,945.3 L316.6,950.1 L316.9,946.4 L317.3,940.9 L317.6,937.4 L317.9,959.1 L318.3,948.4 L318.6,935.5 L319.0,940.0 L319.3,949.0 L319.6,936.6 L320.0,955.5 L320.3,945.5 L320.7,949.3 L321.0,948.7 L321.3,934.0 L321.7,955.5 L322.0,953.1 L322.4,933.7 L322.7,945.7 L323.0,944.5 L323.4,938.2 L323.7,940.0 L324.1,936.5 L324.4,947.0 L324.7,941.2 L325.1,931.2 L325.4,934.8 L325.8,932.4 L326.1,946.5 L326.4,944.3 L326.8,939.5 L327.1,943.9 L327.5,945.9 L327.8,933.8 L328.1,928.9 L328.5,953.6 L328.8,932.9 L329.2,934.5 L329.5,946.9 L329.8,953.3 L330.2,930.9 L330.5,939.0 L330.9,950.0 L331.2,929.4 L331.5,934.3 L331.9,944.2 L332.2,949.6 L332.6,930.3 L332.9,938.8 L333.2,943.6 L333.6,942.2 L333.9,941.8 L334.3,955.3 L334.6,955.0 L334.9,933.5 L335.3,934.4 L335.6,937.8 L336.0,930.3 L336.3,931.2 L336.6,941.7 L337.0,953.0 L337.3,934.4 L337.7,931.8 L338.0,942.5 L338.3,934.2 L338.7,927.1 L339.0,929.1 L339.4,949.0 L339.7,929.4 L340.0,942.6 L340.4,936.7 L340.7,945.9 L341.1,938.7 L341.4,930.8 L341.7,929.8 L342.1,930.0 L342.4,929.6 L342.8,929.7 L343.1,931.0 L343.4,940.5 L343.8,938.4 L344.1,922.0 L344.5,934.5 L344.8,949.8 L345.1,949.9 L345.5,930.4 L345.8,924.4 L346.2,929.3 L346.5,923.7 L346.8,928.2 L347.2,949.1 L347.5,947.6 L347.9,934.7 L348.2,937.6 L348.5,942.2 L348.9,942.2 L349.2,941.9 L349.6,943.2 L349.9,938.5 L350.2,925.2 L350.6,941.4 L350.9,940.7 L351.3,925.7 L351.6,926.5 L351.9,939.4 L352.3,931.7 L352.6,944.5 L353.0,928.3 L353.3,939.9 L353.6,938.3 L354.0,923.0 L354.3,927.9 L354.7,930.1 L355.0,928.4 L355.3,921.8 L355.7,926.1 L356.0,935.5 L356.4,925.4 L356.7,938.8 L357.0,931.1 L357.4,932.3 L357.7,924.0 L358.1,944.0 L358.4,919.5 L358.7,949.3 L359.1,936.2 L359.4,948.6 L359.8,934.1 L360.1,927.6 L360.4,927.4 L360.8,943.9 L361.1,928.9 L361.5,923.9 L361.8,916.8 L362.1,913.9 L362.5,913.1 L362.8,907.3 L363.2,901.7 L363.5,887.9 L363.8,879.9 L364.2,866.7 L364.5,856.5 L364.9,847.9 L365.2,842.1 L365.5,830.1 L365.9,827.2 L366.2,831.8 L366.6,834.1 L366.9,837.6 L367.2,851.1 L367.6,863.7 L367.9,872.5 L368.3,885.1 L368.6,892.6 L368.9,897.9 L369.3,909.1 L369.6,913.0 L370.0,910.1 L370.3,917.2 L370.6,932.9 L371.0,927.5 L371.3,921.9 L371.7,930.7 L372.0,930.4 L372.3,918.1 L372.7,925.0 L373.0,933.8 L373.4,916.6 L373.7,927.1 L374.0,916.0 L374.4,919.7 L374.7,932.3 L375.1,921.5 L375.4,933.5 L375.7,930.9 L376.1,928.4 L376.4,915.5 L376.8,923.5 L377.1,934.3 L377.4,927.9 L377.8,914.7 L378.1,924.2 L378.5,923.3 L378.8,923.6 L379.1,921.9 L379.5,931.8 L379.8,924.1 L380.2,932.6 L380.5,934.9 L380.8,933.0 L381.2,929.1 L381.5,909.4 L381.9,908.0 L382.2,911.1 L382.5,917.7 L382.9,910.6 L383.2,904.7 L383.6,913.0 L383.9,900.8 L384.2,892.6 L384.6,886.8 L384.9,880.6 L385.3,869.6 L385.6,861.1 L385.9,847.8 L386.3,844.2 L386.6,837.1 L387.0,835.2 L387.3,836.8 L387.6,840.9 L388.0,849.1 L388.3,854.6 L388.7,864.6 L389.0,873.7 L389.3,883.6 L389.7,891.3 L390.0,894.1 L390.4,907.1 L390.7,909.8 L391.0,904.4 L391.4,913.5 L391.7,923.1 L392.1,924.3 L392.4,914.8 L392.7,911.1 L393.1,927.7 L393.4,923.2 L393.8,921.6 L394.1,916.0 L394.4,926.0 L394.8,911.4 L395.1,925.0 L395.5,924.4 L395.8,918.4 L396.1,915.4 L396.5,921.9 L396.8,915.8 L397.2,916.2 L397.5,913.6 L397.8,924.4 L398.2,911.0 L398.5,917.3 L398.9,916.2 L399.2,930.5 L399.5,907.9 L399.9,919.0 L400.2,909.7 L400.6,929.8 L400.9,906.2 L401.2,928.4 L401.6,920.7 L401.9,907.1 L402.3,913.9 L402.6,909.3 L402.9,915.7 L403.3,924.2 L403.6,915.6 L404.0,927.5 L404.3,925.5 L404.6,906.6 L405.0,903.6 L405.3,920.0 L405.7,911.0 L406.0,907.6 L406.3,925.9 L406.7,917.4 L407.0,907.3 L407.4,917.0 L407.7,916.6 L408.0,924.1 L408.4,911.8 L408.7,915.0 L409.1,902.3 L409.4,926.5 L409.7,929.0 L410.1,896.5 L410.4,923.5 L410.8,931.4 L411.1,927.1 L411.4,924.9 L411.8,905.2 L412.1,931.6 L412.5,910.0 L412.8,926.5 L413.1,923.5 L413.5,917.0 L413.8,930.1 L414.2,929.7 L414.5,911.2 L414.8,911.8 L415.2,927.4 L415.5,910.9 L415.9,925.1 L416.2,904.1 L416.5,904.7 L416.9,908.5 L417.2,906.0 L417.6,910.1 L417.9,903.1 L418.2,901.2 L418.6,907.5 L418.9,901.1 L419.3,905.9 L419.6,907.4 L419.9,926.7 L420.3,907.6 L420.6,913.7 L421.0,926.1 L421.3,908.0 L421.6,901.7 L422.0,912.3 L422.3,921.9 L422.7,901.3 L423.0,918.3 L423.3,908.5 L423.7,910.1 L424.0,914.4 L424.4,907.5 L424.7,896.7 L425.0,898.5 L425.4,891.9 L425.7,921.8 L426.1,913.4 L426.4,922.8 L426.7,901.7 L427.1,909.6 L427.4,909.8 L427.8,896.0 L428.1,909.0 L428.4,910.3 L428.8,904.9 L429.1,902.4 L429.5,899.1 L429.8,894.6 L430.1,909.1 L430.5,897.9 L430.8,894.5 L431.2,918.3 L431.5,915.8 L431.8,902.0 L432.2,905.1 L432.5,897.1 L432.9,918.1 L433.2,899.7 L433.5,914.5 L433.9,912.2 L434.2,891.1 L434.6,891.7 L434.9,903.4 L435.2,891.3 L435.6,917.8 L435.9,919.4 L436.3,908.3 L436.6,898.9 L436.9,896.0 L437.3,893.7 L437.6,906.5 L438.0,894.4 L438.3,896.3 L438.6,910.8 L439.0,915.1 L439.3,907.9 L439.7,917.2 L440.0,912.9 L440.3,902.0 L440.7,900.1 L441.0,896.0 L441.4,911.6 L441.7,903.5 L442.0,913.0 L442.4,903.0 L442.7,912.3 L443.1,908.3 L443.4,904.5 L443.7,908.3 L444.1,908.1 L444.4,889.3 L444.8,909.7 L445.1,890.4 L445.4,903.3 L445.8,901.8 L446.1,908.9 L446.5,892.7 L446.8,907.3 L447.1,909.9 L447.5,896.5 L447.8,904.0 L448.2,898.7 L448.5,909.2 L448.8,913.3 L449.2,901.5 L449.5,886.1 L449.9,915.0 L450.2,903.9 L450.5,891.5 L450.9,908.9 L451.2,899.4 L451.6,891.6 L451.9,896.3 L452.2,904.2 L452.6,896.0 L452.9,891.0 L453.3,888.8 L453.6,897.2 L453.9,907.6 L454.3,896.0 L454.6,897.6 L455.0,910.2 L455.3,904.5 L455.6,916.9 L456.0,911.5 L456.3,915.1 L456.7,899.5 L457.0,908.7 L457.3,916.5 L457.7,887.1 L458.0,897.5 L458.4,906.3 L458.7,891.6 L459.0,887.8 L459.4,896.1 L459.7,886.3 L460.1,887.2 L460.4,884.0 L460.7,896.9 L461.1,881.1 L461.4,895.7 L461.8,885.3 L462.1,880.5 L462.4,875.3 L462.8,876.0 L463.1,872.9 L463.5,876.3 L463.8,872.7 L464.1,868.6 L464.5,876.3 L464.8,878.3 L465.2,881.0 L465.5,875.3 L465.8,880.6 L466.2,886.4 L466.5,877.7 L466.9,885.8 L467.2,885.2 L467.5,899.3 L467.9,880.6 L468.2,904.3 L468.6,881.5 L468.9,906.3 L469.2,894.0 L469.6,886.5 L469.9,890.4 L470.3,907.6 L470.6,886.6 L470.9,903.8 L471.3,905.2 L471.6,889.9 L472.0,897.9 L472.3,896.6 L472.6,904.3 L473.0,887.2 L473.3,892.6 L473.7,898.9 L474.0,887.0 L474.3,890.1 L474.7,900.7 L475.0,898.5 L475.4,896.9 L475.7,903.2 L476.0,889.5 L476.4,904.7 L476.7,890.9 L477.1,905.3 L477.4,900.8 L477.7,900.8 L478.1,897.8 L478.4,902.5 L478.8,888.5 L479.1,901.5 L479.4,881.4 L479.8,899.2 L480.1,909.5 L480.5,909.5 L480.8,885.4 L481.1,907.7 L481.5,897.3 L481.8,891.7 L482.2,889.8 L482.5,892.0 L482.8,892.0 L483.2,908.9 L483.5,902.2 L483.9,882.4 L484.2,902.5 L484.5,896.3 L484.9,908.8 L485.2,886.3 L485.6,900.3 L485.9,893.3 L486.2,884.7 L486.6,882.0 L486.9,903.8 L487.3,880.0 L487.6,886.1 L487.9,891.5 L488.3,887.0 L488.6,893.4 L489.0,883.9 L489.3,899.8 L489.6,894.1 L490.0,896.0 L490.3,906.6 L490.7,880.9 L491.0,890.1 L491.3,879.5 L491.7,884.1 L492.0,891.0 L492.4,900.0 L492.7,879.5 L493.0,901.6 L493.4,898.4 L493.7,889.6 L494.1,902.5 L494.4,887.7 L494.7,904.8 L495.1,903.7 L495.4,887.1 L495.8,902.6 L496.1,897.2 L496.4,890.4 L496.8,892.7 L497.1,897.9 L497.5,902.5 L497.8,901.1 L498.1,902.8 L498.5,886.0 L498.8,874.4 L499.2,878.3 L499.5,885.3 L499.8,877.4 L500.2,890.0 L500.5,878.0 L500.9,882.9 L501.2,882.7 L501.5,903.0 L501.9,886.9 L502.2,876.8 L502.6,896.9 L502.9,903.4 L503.2,895.0 L503.6,872.9 L503.9,899.7 L504.3,878.8 L504.6,898.7 L504.9,898.7 L505.3,893.4 L505.6,875.2 L506.0,882.7 L506.3,876.4 L506.6,896.2 L507.0,874.5 L507.3,884.0 L507.7,894.3 L508.0,897.1 L508.3,882.9 L508.7,872.9 L509.0,898.0 L509.4,878.6 L509.7,884.2 L510.0,869.8 L510.4,878.4 L510.7,897.3 L511.1,890.4 L511.4,889.6 L511.7,885.2 L512.1,873.5 L512.4,875.7 L512.8,893.3 L513.1,872.5 L513.4,886.1 L513.8,879.0 L514.1,887.0 L514.5,872.8 L514.8,871.6 L515.1,882.4 L515.5,875.4 L515.8,887.5 L516.2,892.1 L516.5,872.9 L516.8,875.5 L517.2,874.0 L517.5,878.4 L517.9,875.3 L518.2,882.8 L518.5,877.7 L518.9,879.9 L519.2,887.3 L519.6,886.3 L519.9,872.2 L520.2,872.0 L520.6,874.3 L520.9,869.3 L521.3,860.5 L521.6,859.4 L521.9,850.4 L522.3,835.4 L522.6,817.4 L523.0,801.6 L523.3,773.7 L523.6,747.0 L524.0,721.6 L524.3,690.6 L524.7,666.3 L525.0,634.2 L525.3,613.0 L525.7,600.7 L526.0,601.3 L526.4,605.0 L526.7,613.4 L527.0,635.7 L527.4,670.0 L527.7,695.5 L528.1,724.0 L528.4,749.4 L528.7,777.3 L529.1,798.2 L529.4,826.0 L529.8,842.5 L530.1,850.7 L530.4,862.5 L530.8,859.9 L531.1,866.1 L531.5,877.7 L531.8,882.4 L532.1,881.8 L532.5,868.6 L532.8,895.5 L533.2,874.4 L533.5,888.0 L533.8,895.1 L534.2,873.2 L534.5,881.2 L534.9,887.0 L535.2,901.5 L535.5,890.2 L535.9,880.2 L536.2,889.2 L536.6,881.9 L536.9,870.7 L537.2,873.1 L537.6,884.9 L537.9,886.1 L538.3,878.0 L538.6,872.5 L538.9,866.3 L539.3,886.1 L539.6,869.9 L540.0,883.9 L540.3,889.2 L540.6,885.4 L541.0,879.2 L541.3,865.0 L541.7,880.9 L542.0,886.6 L542.3,870.8 L542.7,882.4 L543.0,875.6 L543.4,880.3 L543.7,878.8 L544.0,869.6 L544.4,872.9 L544.7,865.1 L545.1,865.3 L545.4,868.4 L545.7,877.3 L546.1,870.2 L546.4,880.8 L546.8,876.0 L547.1,882.2 L547.4,879.1 L547.8,870.6 L548.1,864.1 L548.5,871.3 L548.8,871.8 L549.1,863.8 L549.5,864.4 L549.8,885.9 L550.2,881.3 L550.5,867.8 L550.8,861.1 L551.2,865.6 L551.5,871.5 L551.9,884.2 L552.2,859.5 L552.5,874.6 L552.9,880.1 L553.2,877.5 L553.6,864.5 L553.9,864.1 L554.2,856.0 L554.6,843.3 L554.9,836.8 L555.3,831.8 L555.6,814.3 L555.9,802.9 L556.3,794.9 L556.6,786.4 L557.0,774.6 L557.3,771.8 L557.6,773.7 L558.0,776.4 L558.3,777.4 L558.7,792.4 L559.0,799.3 L559.3,816.6 L559.7,826.4 L560.0,837.2 L560.4,843.6 L560.7,844.0 L561.0,849.8 L561.4,849.7 L561.7,865.8 L562.1,869.9 L562.4,863.4 L562.7,871.3 L563.1,857.7 L563.4,863.6 L563.8,862.7 L564.1,863.9 L564.4,851.4 L564.8,853.9 L565.1,851.2 L565.5,859.5 L565.8,854.1 L566.1,856.9 L566.5,849.0 L566.8,841.9 L567.2,838.4 L567.5,840.1 L567.8,839.7 L568.2,834.8 L568.5,839.0 L568.9,844.2 L569.2,847.2 L569.5,842.9 L569.9,850.8 L570.2,859.0 L570.6,858.3 L570.9,848.2 L571.2,857.3 L571.6,856.7 L571.9,859.0 L572.3,872.0 L572.6,869.9 L572.9,873.4 L573.3,870.3 L573.6,873.7 L574.0,862.9 L574.3,873.6 L574.6,866.2 L575.0,871.4 L575.3,856.7 L575.7,872.9 L576.0,862.2 L576.3,874.5 L576.7,859.2 L577.0,861.9 L577.4,865.3 L577.7,874.2 L578.0,870.8 L578.4,857.9 L578.7,865.2 L579.1,875.2 L579.4,876.7 L579.7,872.8 L580.1,861.2 L580.4,878.5 L580.8,863.0 L581.1,872.9 L581.4,875.1 L581.8,871.7 L582.1,855.1 L582.5,859.3 L582.8,874.5 L583.1,871.0 L583.5,876.5 L583.8,872.7 L584.2,872.4 L584.5,878.2 L584.8,879.9 L585.2,862.6 L585.5,877.7 L585.9,882.0 L586.2,858.7 L586.5,866.5 L586.9,869.4 L587.2,870.1 L587.6,879.6 L587.9,855.3 L588.2,856.9 L588.6,877.2 L588.9,862.8 L589.3,867.8 L589.6,860.0 L589.9,882.7 L590.3,868.8 L590.6,858.6 L591.0,879.8 L591.3,871.1 L591.6,863.0 L592.0,859.1 L592.3,857.6 L592.7,877.2 L593.0,859.5 L593.3,861.8 L593.7,869.7 L594.0,857.9 L594.4,873.8 L594.7,871.9 L595.0,872.0 L595.4,864.6 L595.7,862.7 L596.1,875.3 L596.4,881.0 L596.7,870.5 L597.1,879.0 L597.4,859.0 L597.8,874.5 L598.1,861.0 L598.4,862.2 L598.8,856.4 L599.1,877.6 L599.5,859.6 L599.8,861.4 L600.1,864.0 L600.5,865.7 L600.8,874.1 L601.2,858.3 L601.5,858.0 L601.8,861.1 L602.2,876.3 L602.5,875.2 L602.9,877.3 L603.2,866.9 L603.5,856.6 L603.9,869.6 L604.2,862.1 L604.6,859.1 L604.9,862.4 L605.2,872.5 L605.6,868.7 L605.9,872.5 L606.3,869.4 L606.6,868.4 L606.9,867.4 L607.3,872.8 L607.6,870.4 L608.0,869.9 L608.3,862.4 L608.6,859.4 L609.0,871.8 L609.3,868.5 L609.7,871.0 L610.0,861.4 L610.3,854.6 L610.7,871.1 L611.0,858.1 L611.4,870.7 L611.7,855.6 L612.0,856.6 L612.4,857.1 L612.7,857.7 L613.1,872.3 L613.4,855.3 L613.7,861.4 L614.1,866.5 L614.4,866.2 L614.8,869.2 L615.1,866.3 L615.4,858.0 L615.8,856.8 L616.1,870.7 L616.5,861.0 L616.8,858.1 L617.1,861.0 L617.5,857.6 L617.8,870.3 L618.2,859.5 L618.5,867.1 L618.8,863.7 L619.2,867.2 L619.5,875.2 L619.9,865.2 L620.2,858.3 L620.5,870.4 L620.9,861.6 L621.2,860.6 L621.6,874.6 L621.9,859.7 L622.2,860.9 L622.6,864.0 L622.9,873.4 L623.3,873.3 L623.6,863.0 L623.9,854.4 L624.3,854.3 L624.6,856.7 L625.0,878.0 L625.3,864.0 L625.6,865.2 L626.0,869.9 L626.3,865.0 L626.7,857.6 L627.0,869.9 L627.3,858.1 L627.7,861.6 L628.0,854.9 L628.4,868.0 L628.7,871.9 L629.0,861.1 L629.4,854.9 L629.7,860.8 L630.1,856.2 L630.4,856.6 L630.7,866.5 L631.1,864.7 L631.4,863.4 L631.8,857.9 L632.1,860.6 L632.4,856.3 L632.8,853.1 L633.1,846.0 L633.5,858.7 L633.8,848.8 L634.1,854.7 L634.5,854.1 L634.8,846.9 L635.2,850.2 L635.5,848.9 L635.8,853.8 L636.2,858.0 L636.5,845.6 L636.9,859.9 L637.2,851.4 L637.5,852.3 L637.9,862.4 L638.2,855.1 L638.6,860.8 L638.9,855.0 L639.2,853.5 L639.6,862.8 L639.9,857.3 L640.3,875.3 L640.6,855.7 L640.9,857.5 L641.3,876.9 L641.6,860.1 L642.0,868.1 L642.3,855.4 L642.6,869.9 L643.0,865.4 L643.3,872.5 L643.7,869.5 L644.0,868.7 L644.3,864.5 L644.7,866.7 L645.0,871.0 L645.4,861.2 L645.7,869.0 L646.0,854.3 L646.4,873.9 L646.7,867.9 L647.1,854.9 L647.4,857.1 L647.7,860.2 L648.1,852.6 L648.4,864.7 L648.8,865.6 L649.1,866.3 L649.4,862.3 L649.8,856.4 L650.1,870.6 L650.5,863.1 L650.8,851.2 L651.1,870.4 L651.5,852.5 L651.8,866.8 L652.2,864.8 L652.5,874.1 L652.8,873.7 L653.2,860.1 L653.5,864.8 L653.9,855.2 L654.2,863.1 L654.5,858.1 L654.9,860.1 L655.2,858.9 L655.6,870.4 L655.9,861.8 L656.2,867.2 L656.6,856.9 L656.9,853.5 L657.3,863.2 L657.6,848.0 L657.9,840.8 L658.3,838.1 L658.6,834.6 L659.0,823.5 L659.3,814.9 L659.6,802.1 L660.0,790.1 L660.3,771.7 L660.7,762.8 L661.0,746.8 L661.3,738.8 L661.7,735.4 L662.0,730.1 L662.4,733.7 L662.7,738.8 L663.0,747.1 L663.4,761.0 L663.7,771.9 L664.1,785.3 L664.4,800.1 L664.7,811.3 L665.1,823.9 L665.4,830.8 L665.8,836.8 L666.1,840.9 L666.4,851.7 L666.8,854.0 L667.1,853.1 L667.5,848.1 L667.8,855.1 L668.1,848.1 L668.5,849.2 L668.8,853.4 L669.2,848.1 L669.5,847.9 L669.8,856.5 L670.2,863.1 L670.5,850.7 L670.9,864.8 L671.2,848.8 L671.5,854.5 L671.9,853.2 L672.2,863.7 L672.6,857.7 L672.9,858.0 L673.2,846.1 L673.6,848.4 L673.9,850.4 L674.3,861.6 L674.6,865.8 L674.9,867.3 L675.3,865.4 L675.6,864.8 L676.0,865.2 L676.3,860.4 L676.6,845.7 L677.0,847.3 L677.3,846.2 L677.7,862.0 L678.0,861.5 L678.3,848.4 L678.7,851.1 L679.0,847.9 L679.4,864.4 L679.7,862.2 L680.0,859.6 L680.4,856.9 L680.7,853.6 L681.1,851.3 L681.4,842.8 L681.7,849.4 L682.1,848.2 L682.4,846.3 L682.8,835.6 L683.1,842.0 L683.4,836.0 L683.8,832.2 L684.1,826.0 L684.5,824.8 L684.8,823.2 L685.1,818.5 L685.5,821.0 L685.8,820.8 L686.2,823.1 L686.5,823.4 L686.8,826.6 L687.2,830.7 L687.5,831.2 L687.9,828.7 L688.2,830.6 L688.5,833.8 L688.9,834.2 L689.2,834.6 L689.6,832.1 L689.9,830.2 L690.2,826.0 L690.6,827.9 L690.9,823.6 L691.3,824.2 L691.6,822.8 L691.9,822.7 L692.3,821.4 L692.6,820.1 L693.0,824.1 L693.3,827.5 L693.6,829.8 L694.0,832.5 L694.3,840.0 L694.7,844.5 L695.0,841.8 L695.3,842.2 L695.7,853.7 L696.0,855.2 L696.4,848.9 L696.7,850.6 L697.0,852.3 L697.4,859.9 L697.7,864.5 L698.1,864.3 L698.4,853.3 L698.7,856.0 L699.1,859.7 L699.4,861.5 L699.8,854.9 L700.1,856.9 L700.4,861.5 L700.8,862.3 L701.1,864.6 L701.5,860.6 L701.8,850.2 L702.1,854.0 L702.5,860.9 L702.8,855.3 L703.2,871.6 L703.5,853.9 L703.8,869.1 L704.2,852.5 L704.5,866.8 L704.9,865.0 L705.2,872.9 L705.5,864.3 L705.9,871.3 L706.2,870.0 L706.6,856.3 L706.9,861.1 L707.2,849.7 L707.6,852.5 L707.9,869.9 L708.3,852.5 L708.6,855.6 L708.9,852.3 L709.3,868.4 L709.6,851.4 L710.0,862.7 L710.3,851.5 L710.6,870.5 L711.0,851.0 L711.3,863.2 L711.7,874.2 L712.0,865.3 L712.3,861.9 L712.7,867.4 L713.0,857.7 L713.4,850.1 L713.7,866.8 L714.0,871.8 L714.4,853.7 L714.7,858.8 L715.1,870.5 L715.4,854.2 L715.7,855.5 L716.1,855.8 L716.4,851.6 L716.8,870.8 L717.1,863.5 L717.4,864.0 L717.8,866.3 L718.1,868.6 L718.5,860.0 L718.8,870.8 L719.1,849.3 L719.5,854.1 L719.8,852.8 L720.2,861.6 L720.5,865.1 L720.8,867.0 L721.2,870.2 L721.5,869.1 L721.9,859.0 L722.2,859.8 L722.5,860.5 L722.9,846.1 L723.2,859.1 L723.6,865.3 L723.9,846.1 L724.2,853.2 L724.6,848.4 L724.9,846.9 L725.3,854.7 L725.6,858.5 L725.9,848.7 L726.3,865.1 L726.6,865.5 L727.0,876.6 L727.3,867.6 L727.6,849.4 L728.0,852.4 L728.3,874.7 L728.7,853.2 L729.0,854.5 L729.3,860.1 L729.7,870.2 L730.0,860.3 L730.4,849.6 L730.7,857.8 L731.0,873.5 L731.4,854.1 L731.7,866.0 L732.1,855.8 L732.4,848.8 L732.7,857.2 L733.1,861.0 L733.4,870.2 L733.8,852.0 L734.1,870.8 L734.4,850.5 L734.8,856.2 L735.1,859.6 L735.5,874.7 L735.8,858.1 L736.1,857.0 L736.5,848.2 L736.8,854.3 L737.2,866.8 L737.5,869.9 L737.8,860.1 L738.2,877.4 L738.5,848.4 L738.9,867.0 L739.2,858.7 L739.5,862.8 L739.9,856.8 L740.2,850.5 L740.6,850.9 L740.9,848.9 L741.2,864.6 L741.6,876.5 L741.9,850.1 L742.3,873.9 L742.6,867.9 L742.9,855.3 L743.3,850.5 L743.6,851.8 L744.0,878.0 L744.3,865.7 L744.6,878.4 L745.0,854.8 L745.3,850.6 L745.7,864.7 L746.0,849.6 L746.3,862.4 L746.7,863.9 L747.0,875.7 L747.4,869.1 L747.7,848.4 L748.0,849.6 L748.4,848.7 L748.7,865.2 L749.1,866.1 L749.4,865.8 L749.7,876.2 L750.1,855.5 L750.4,865.1 L750.8,876.3 L751.1,870.8 L751.4,860.7 L751.8,852.7 L752.1,853.4 L752.5,879.0 L752.8,854.9 L753.1,852.4 L753.5,873.5 L753.8,866.4 L754.2,863.3 L754.5,869.4 L754.8,857.7 L755.2,861.4 L755.5,858.9 L755.9,855.8 L756.2,870.2 L756.5,861.9 L756.9,862.2 L757.2,867.2 L757.6,869.2 L757.9,872.7 L758.2,870.5 L758.6,859.8 L758.9,854.3 L759.3,868.6 L759.6,857.4 L759.9,862.8 L760.3,878.2 L760.6,853.4 L761.0,861.8 L761.3,857.5 L761.6,865.1 L762.0,866.1 L762.3,858.7 L762.7,880.3 L763.0,867.4 L763.3,855.7 L763.7,874.5 L764.0,870.2 L764.4,862.2 L764.7,872.6 L765.0,872.0 L765.4,861.0 L765.7,875.4 L766.1,868.5 L766.4,853.7 L766.7,856.7 L767.1,852.3 L767.4,868.1 L767.8,854.4 L768.1,863.5 L768.4,864.3 L768.8,852.4 L769.1,877.9 L769.5,876.4 L769.8,877.8 L770.1,860.0 L770.5,858.0 L770.8,853.5 L771.2,876.9 L771.5,871.1 L771.8,852.5 L772.2,848.2 L772.5,872.3 L772.9,856.3 L773.2,859.5 L773.5,871.8 L773.9,872.7 L774.2,864.7 L774.6,875.1 L774.9,862.5 L775.2,861.1 L775.6,867.5 L775.9,864.3 L776.3,856.3 L776.6,871.4 L776.9,869.1 L777.3,853.9 L777.6,865.5 L778.0,863.9 L778.3,865.0 L778.6,865.2 L779.0,869.9 L779.3,861.7 L779.7,863.8 L780.0,877.9 L780.3,851.6 L780.7,872.0 L781.0,851.3 L781.4,850.2 L781.7,876.5 L782.0,852.6 L782.4,851.3 L782.7,873.9 L783.1,857.8 L783.4,860.8 L783.7,865.2 L784.1,862.1 L784.4,869.4 L784.8,860.1 L785.1,870.6 L785.4,857.2 L785.8,851.8 L786.1,868.9 L786.5,873.0 L786.8,870.0 L787.1,851.8 L787.5,860.5 L787.8,864.5 L788.2,863.0 L788.5,868.6 L788.8,872.7 L789.2,864.1 L789.5,870.6 L789.9,858.1 L790.2,861.3 L790.5,871.8 L790.9,854.5 L791.2,862.4 L791.6,863.9 L791.9,855.2 L792.2,867.2 L792.6,867.2 L792.9,862.8 L793.3,851.6 L793.6,852.6 L793.9,861.0 L794.3,851.9 L794.6,865.3 L795.0,866.0 L795.3,848.1 L795.6,863.0 L796.0,864.8 L796.3,864.1 L796.7,868.4 L797.0,864.9 L797.3,848.9 L797.7,852.2 L798.0,864.8 L798.4,868.7 L798.7,850.5 L799.0,856.7 L799.4,848.0 L799.7,865.3 L800.1,868.4 L800.4,847.3 L800.7,868.2 L801.1,853.4 L801.4,855.0 L801.8,856.0 L802.1,869.4 L802.4,855.0 L802.8,866.2 L803.1,871.3 L803.5,862.9 L803.8,862.2 L804.1,862.1 L804.5,859.0 L804.8,846.6 L805.2,854.8 L805.5,853.8 L805.8,849.8 L806.2,861.4 L806.5,849.5 L806.9,849.5 L807.2,847.1 L807.5,852.1 L807.9,853.4 L808.2,863.9 L808.6,845.2 L808.9,857.5 L809.2,846.2 L809.6,855.7 L809.9,846.2 L810.3,847.9 L810.6,845.7 L810.9,844.6 L811.3,842.2 L811.6,836.8 L812.0,833.8 L812.3,829.9 L812.6,827.3 L813.0,827.2 L813.3,821.1 L813.7,820.7 L814.0,817.2 L814.3,818.4 L814.7,814.8 L815.0,813.6 L815.4,815.3 L815.7,816.9 L816.0,816.3 L816.4,817.7 L816.7,821.4 L817.1,822.5 L817.4,829.3 L817.7,829.5 L818.1,834.1 L818.4,837.7 L818.8,838.1 L819.1,843.1 L819.4,841.4 L819.8,836.7 L820.1,843.2 L820.5,841.6 L820.8,841.0 L821.1,841.8 L821.5,844.1 L821.8,841.6 L822.2,839.4 L822.5,833.6 L822.8,835.4 L823.2,834.0 L823.5,829.8 L823.9,833.8 L824.2,830.9 L824.5,834.9 L824.9,834.3 L825.2,836.2 L825.6,840.7 L825.9,845.2 L826.2,840.7 L826.6,850.4 L826.9,841.7 L827.3,845.1 L827.6,849.7 L827.9,842.4 L828.3,864.9 L828.6,856.4 L829.0,848.9 L829.3,861.3 L829.6,852.2 L830.0,849.4 L830.3,854.8 L830.7,851.4 L831.0,851.5 L831.3,870.1 L831.7,846.6 L832.0,860.2 L832.4,861.0 L832.7,860.6 L833.0,873.0 L833.4,846.2 L833.7,868.9 L834.1,848.0 L834.4,848.9 L834.7,858.1 L835.1,861.8 L835.4,862.0 L835.8,855.3 L836.1,876.1 L836.4,871.7 L836.8,862.8 L837.1,873.9 L837.5,855.6 L837.8,870.9 L838.1,858.6 L838.5,850.2 L838.8,870.0 L839.2,854.7 L839.5,852.2 L839.8,853.9 L840.2,864.8 L840.5,864.5 L840.9,867.7 L841.2,853.3 L841.5,852.5 L841.9,869.2 L842.2,852.7 L842.6,848.7 L842.9,865.6 L843.2,850.5 L843.6,862.1 L843.9,852.9 L844.3,863.0 L844.6,856.1 L844.9,866.6 L845.3,851.1 L845.6,844.1 L846.0,854.4 L846.3,844.7 L846.6,850.3 L847.0,850.9 L847.3,851.3 L847.7,850.4 L848.0,853.8 L848.3,864.3 L848.7,848.5 L849.0,868.5 L849.4,850.6 L849.7,867.2 L850.0,865.1 L850.4,858.4 L850.7,857.1 L851.1,849.1 L851.4,871.2 L851.7,862.1 L852.1,851.7 L852.4,849.6 L852.8,870.2 L853.1,860.9 L853.4,867.0 L853.8,865.9 L854.1,844.1 L854.5,868.1 L854.8,861.9 L855.1,856.9 L855.5,857.6 L855.8,857.4 L856.2,865.9 L856.5,851.9 L856.8,847.8 L857.2,850.4 L857.5,861.4 L857.9,854.7 L858.2,854.7 L858.5,867.0 L858.9,856.7 L859.2,848.3 L859.6,853.3 L859.9,854.9 L860.2,869.4 L860.6,847.4 L860.9,862.2 L861.3,863.7 L861.6,846.4 L861.9,868.2 L862.3,849.9 L862.6,844.0 L863.0,867.1 L863.3,867.9 L863.6,856.9 L864.0,849.1 L864.3,844.1 L864.7,866.7 L865.0,856.6 L865.3,867.4 L865.7,859.1 L866.0,862.9 L866.4,855.6 L866.7,854.8 L867.0,859.1 L867.4,848.2 L867.7,855.4 L868.1,860.7 L868.4,852.5 L868.7,851.9 L869.1,854.7 L869.4,854.0 L869.8,863.7 L870.1,850.9 L870.4,866.4 L870.8,850.9 L871.1,852.2 L871.5,857.9 L871.8,854.1 L872.1,853.3 L872.5,847.3 L872.8,847.5 L873.2,866.6 L873.5,870.8 L873.8,869.8 L874.2,858.7 L874.5,849.4 L874.9,857.0 L875.2,861.9 L875.5,857.2 L875.9,862.8 L876.2,857.2 L876.6,865.7 L876.9,868.3 L877.2,865.0 L877.6,862.7 L877.9,870.0 L878.3,862.8 L878.6,846.3 L878.9,870.8 L879.3,869.6 L879.6,849.1 L880.0,849.6 L880.3,871.5 L880.6,858.6 L881.0,868.4 L881.3,867.4 L881.7,870.1 L882.0,855.4 L882.3,869.8 L882.7,860.5 L883.0,854.8 L883.4,856.4 L883.7,872.2 L884.0,853.8 L884.4,870.9 L884.7,864.7 L885.1,853.6 L885.4,846.6 L885.7,868.0 L886.1,845.9 L886.4,869.8 L886.8,851.6 L887.1,868.8 L887.4,842.1 L887.8,843.0 L888.1,865.9 L888.5,847.2 L888.8,847.2 L889.1,856.9 L889.5,857.4 L889.8,846.7 L890.2,864.5 L890.5,843.9 L890.8,845.2 L891.2,866.2 L891.5,853.4 L891.9,843.1 L892.2,842.7 L892.5,845.4 L892.9,843.0 L893.2,845.2 L893.6,832.2 L893.9,823.3 L894.2,812.4 L894.6,798.4 L894.9,783.8 L895.3,771.0 L895.6,754.6 L895.9,737.3 L896.3,721.7 L896.6,717.5 L897.0,711.3 L897.3,717.0 L897.6,723.2 L898.0,733.8 L898.3,746.4 L898.7,764.6 L899.0,783.6 L899.3,797.3 L899.7,808.3 L900.0,822.1 L900.4,828.9 L900.7,835.2 L901.0,846.3 L901.4,854.8 L901.7,854.7 L902.1,847.7 L902.4,846.7 L902.7,860.4 L903.1,848.5 L903.4,859.6 L903.8,860.1 L904.1,842.4 L904.4,864.0 L904.8,863.8 L905.1,847.3 L905.5,851.5 L905.8,862.8 L906.1,849.0 L906.5,853.2 L906.8,844.7 L907.2,862.9 L907.5,853.1 L907.8,865.3 L908.2,867.0 L908.5,856.9 L908.9,851.8 L909.2,844.6 L909.5,862.9 L909.9,867.3 L910.2,844.2 L910.6,863.5 L910.9,849.1 L911.2,855.0 L911.6,852.7 L911.9,857.7 L912.3,852.3 L912.6,866.1 L912.9,845.2 L913.3,859.1 L913.6,860.8 L914.0,868.5 L914.3,858.9 L914.6,855.0 L915.0,849.5 L915.3,852.3 L915.7,865.6 L916.0,846.4 L916.3,867.7 L916.7,866.9 L917.0,856.3 L917.4,866.3 L917.7,852.8 L918.0,851.6 L918.4,864.4 L918.7,863.3 L919.1,854.2 L919.4,863.3 L919.7,849.4 L920.1,847.1 L920.4,867.2 L920.8,856.6 L921.1,865.1 L921.4,858.2 L921.8,856.4 L922.1,869.9 L922.5,870.6 L922.8,856.6 L923.1,853.0 L923.5,853.0 L923.8,866.8 L924.2,852.4 L924.5,856.3 L924.8,845.0 L925.2,850.5 L925.5,868.8 L925.9,870.9 L926.2,872.8 L926.5,851.4 L926.9,859.6 L927.2,858.8 L927.6,866.9 L927.9,854.8 L928.2,866.1 L928.6,851.3 L928.9,853.6 L929.3,848.5 L929.6,845.8 L929.9,856.3 L930.3,856.3 L930.6,849.5 L931.0,852.6 L931.3,848.0 L931.6,848.3 L932.0,841.6 L932.3,837.8 L932.7,839.8 L933.0,833.8 L933.3,836.5 L933.7,835.7 L934.0,831.9 L934.4,835.2 L934.7,835.1 L935.0,840.7 L935.4,835.5 L935.7,838.3 L936.1,841.3 L936.4,852.4 L936.7,844.5 L937.1,847.3 L937.4,851.8 L937.8,861.9 L938.1,861.9 L938.4,847.4 L938.8,854.1 L939.1,868.2 L939.5,855.2 L939.8,850.8 L940.1,849.1 L940.5,855.9 L940.8,861.6 L941.2,869.9 L941.5,868.1 L941.8,869.1 L942.2,847.7 L942.5,846.1 L942.9,852.7 L943.2,864.2 L943.5,857.5 L943.9,869.2 L944.2,860.6 L944.6,873.0 L944.9,863.2 L945.2,855.5 L945.6,857.3 L945.9,867.8 L946.3,858.1 L946.6,857.4 L946.9,849.6 L947.3,866.9 L947.6,858.6 L948.0,850.5 L948.3,858.6 L948.6,864.2 L949.0,868.0 L949.3,872.0 L949.7,852.6 L950.0,860.8 L950.3,854.1 L950.7,856.1 L951.0,861.5 L951.4,864.3 L951.7,846.4 L952.0,848.2 L952.4,867.5 L952.7,855.6 L953.1,846.0 L953.4,859.3 L953.7,856.8 L954.1,853.2 L954.4,868.8 L954.8,865.5 L955.1,857.2 L955.4,864.5 L955.8,865.6 L956.1,849.8 L956.5,845.7 L956.8,849.6 L957.1,852.5 L957.5,855.5 L957.8,848.8 L958.2,843.8 L958.5,837.1 L958.8,835.3 L959.2,829.5 L959.5,824.6 L959.9,824.4 L960.2,826.6 L960.5,827.5 L960.9,834.2 L961.2,836.4 L961.6,841.1 L961.9,837.7 L962.2,848.6 L962.6,841.0 L962.9,855.6 L963.3,841.0 L963.6,843.3 L963.9,840.2 L964.3,855.4 L964.6,857.8 L965.0,867.3 L965.3,849.8 L965.6,850.3 L966.0,848.2 L966.3,863.8 L966.7,850.2 L967.0,863.2 L967.3,860.0 L967.7,854.6 L968.0,852.6 L968.4,868.0 L968.7,872.3 L969.0,852.2 L969.4,860.6 L969.7,872.3 L970.1,848.9 L970.4,844.7 L970.7,868.5 L971.1,853.7 L971.4,864.2 L971.8,873.5 L972.1,851.1 L972.4,861.4 L972.8,853.5 L973.1,871.2 L973.5,853.1 L973.8,855.1 L974.1,864.0 L974.5,848.5 L974.8,867.5 L975.2,848.7 L975.5,863.4 L975.8,867.3 L976.2,841.0 L976.5,854.8 L976.9,856.8 L977.2,867.5 L977.5,855.5 L977.9,863.8 L978.2,847.9 L978.6,855.1 L978.9,862.2 L979.2,846.0 L979.6,846.2 L979.9,844.5 L980.3,848.1 L980.6,849.3 L980.9,851.9 L981.3,857.4 L981.6,846.0 L982.0,851.9 L982.3,849.7 L982.6,860.9 L983.0,860.0 L983.3,866.5 L983.7,866.0 L984.0,850.9 L984.3,863.3 L984.7,852.9 L985.0,855.6 L985.4,862.9 L985.7,854.6 L986.0,868.6 L986.4,844.7 L986.7,870.6 L987.1,856.9 L987.4,861.3 L987.7,845.7 L988.1,853.6 L988.4,844.7 L988.8,868.6 L989.1,851.5 L989.4,870.4 L989.8,865.1 L990.1,846.1 L990.5,838.9 L990.8,842.1 L991.1,837.8 L991.5,854.7 L991.8,837.4 L992.2,847.4 L992.5,833.5 L992.8,839.9 L993.2,832.6 L993.5,836.6 L993.9,837.5 L994.2,842.6 L994.5,850.9 L994.9,859.4 L995.2,860.8 L995.6,849.9 L995.9,860.8 L996.2,861.6 L996.6,871.2 L996.9,854.3 L997.3,864.4 L997.6,857.2 L997.9,875.0 L998.3,859.2 L998.6,867.7 L999.0,848.5 L999.3,872.5 L999.6,866.9 L1000.0,849.2 L1000.3,868.0 L1000.7,848.6 L1001.0,864.5 L1001.3,872.2 L1001.7,859.1 L1002.0,861.8 L1002.4,867.4 L1002.7,847.2 L1003.0,846.9 L1003.4,848.7 L1003.7,873.5 L1004.1,869.6 L1004.4,868.9 L1004.7,861.6 L1005.1,866.3 L1005.4,859.5 L1005.8,871.2 L1006.1,870.1 L1006.4,846.0 L1006.8,855.5 L1007.1,862.6 L1007.5,872.0 L1007.8,847.6 L1008.1,874.6 L1008.5,872.8 L1008.8,847.6 L1009.2,867.1 L1009.5,876.5 L1009.8,876.2 L1010.2,873.4 L1010.5,844.7 L1010.9,876.1 L1011.2,853.6 L1011.5,844.2 L1011.9,841.7 L1012.2,865.5 L1012.6,857.3 L1012.9,857.4 L1013.2,847.4 L1013.6,862.4 L1013.9,867.0 L1014.3,854.9 L1014.6,842.9 L1014.9,841.1 L1015.3,859.9 L1015.6,844.9 L1016.0,839.7 L1016.3,870.0 L1016.6,839.4 L1017.0,852.2 L1017.3,865.5 L1017.7,844.6 L1018.0,843.4 L1018.3,848.8 L1018.7,848.5 L1019.0,841.0 L1019.4,856.2 L1019.7,875.9 L1020.0,871.8 L1020.4,863.0 L1020.7,846.5 L1021.1,868.8 L1021.4,838.4 L1021.7,853.4 L1022.1,859.3 L1022.4,863.1 L1022.8,867.7 L1023.1,856.4 L1023.4,855.0 L1023.8,861.1 L1024.1,865.7 L1024.5,840.4 L1024.8,862.5 L1025.1,862.5 L1025.5,850.5 L1025.8,864.7 L1026.2,863.9 L1026.5,837.0 L1026.8,867.1 L1027.2,849.3 L1027.5,836.2 L1027.9,845.4 L1028.2,866.5 L1028.5,844.5 L1028.9,864.5 L1029.2,850.0 L1029.6,843.2 L1029.9,859.8 L1030.2,841.8 L1030.6,855.0 L1030.9,835.9 L1031.3,839.9 L1031.6,850.0 L1031.9,842.9 L1032.3,834.3 L1032.6,844.9 L1033.0,854.1 L1033.3,857.7 L1033.6,861.9 L1034.0,836.5 L1034.3,859.4 L1034.7,848.2 L1035.0,857.6 L1035.3,844.7 L1035.7,845.7 L1036.0,862.4 L1036.4,853.7 L1036.7,851.9 L1037.0,858.1 L1037.4,845.2 L1037.7,859.7 L1038.1,855.1 L1038.4,858.1 L1038.7,861.7 L1039.1,854.6 L1039.4,854.9 L1039.8,857.6 L1040.1,852.9 L1040.4,859.0 L1040.8,848.5 L1041.1,844.2 L1041.5,844.8 L1041.8,858.7 L1042.1,845.0 L1042.5,840.9 L1042.8,846.3 L1043.2,849.7 L1043.5,852.3 L1043.8,836.9 L1044.2,843.0 L1044.5,847.9 L1044.9,838.9 L1045.2,833.1 L1045.5,840.3 L1045.9,829.6 L1046.2,824.9 L1046.6,824.8 L1046.9,823.1 L1047.2,821.6 L1047.6,819.6 L1047.9,819.3 L1048.3,817.5 L1048.6,820.7 L1048.9,823.5 L1049.3,826.5 L1049.6,829.1 L1050.0,828.5 L1050.3,836.3 L1050.6,841.1 L1051.0,847.2 L1051.3,849.3 L1051.7,835.6 L1052.0,856.8 L1052.3,846.6 L1052.7,850.7 L1053.0,841.4 L1053.4,848.2 L1053.7,842.2 L1054.0,849.2 L1054.4,845.9 L1054.7,844.3 L1055.1,849.5 L1055.4,864.6 L1055.7,853.3 L1056.1,847.4 L1056.4,840.0 L1056.8,848.1 L1057.1,870.8 L1057.4,870.8 L1057.8,868.3 L1058.1,867.5 L1058.5,869.0 L1058.8,837.5 L1059.1,870.6 L1059.5,869.4 L1059.8,844.7 L1060.2,871.7 L1060.5,861.9 L1060.8,847.0 L1061.2,869.7 L1061.5,842.8 L1061.9,860.3 L1062.2,854.2 L1062.5,858.8 L1062.9,871.0 L1063.2,857.5 L1063.6,866.5 L1063.9,845.4 L1064.2,873.3 L1064.6,854.1 L1064.9,843.4 L1065.3,846.6 L1065.6,871.9 L1065.9,840.8 L1066.3,873.0 L1066.6,867.0 L1067.0,851.5 L1067.3,871.0 L1067.6,844.4 L1068.0,865.7 L1068.3,849.7 L1068.7,864.7 L1069.0,841.7 L1069.3,864.5 L1069.7,857.8 L1070.0,865.7 L1070.4,855.7 L1070.7,861.4 L1071.0,848.0 L1071.4,858.2 L1071.7,857.0 L1072.1,835.7 L1072.4,847.2 L1072.7,837.8 L1073.1,843.8 L1073.4,840.6 L1073.8,834.9 L1074.1,829.5 L1074.4,832.2 L1074.8,830.7 L1075.1,825.6 L1075.5,828.0 L1075.8,827.2 L1076.1,832.9 L1076.5,833.1 L1076.8,836.7 L1077.2,840.5 L1077.5,849.2 L1077.8,853.3 L1078.2,844.5 L1078.5,844.8 L1078.9,855.6 L1079.2,857.4 L1079.5,853.9 L1079.9,863.0 L1080.2,850.3 L1080.6,866.0 L1080.9,859.2 L1081.2,863.4 L1081.6,851.9 L1081.9,844.7 L1082.3,862.7 L1082.6,855.0 L1082.9,858.2 L1083.3,864.9 L1083.6,857.4 L1084.0,865.3 L1084.3,851.9 L1084.6,859.9 L1085.0,855.5 L1085.3,848.6 L1085.7,861.3 L1086.0,860.1 L1086.3,863.1 L1086.7,861.6 L1087.0,853.0 L1087.4,850.3 L1087.7,861.5 L1088.0,860.9 L1088.4,850.5 L1088.7,857.4 L1089.1,843.6 L1089.4,845.8 L1089.7,846.7 L1090.1,850.4 L1090.4,865.7 L1090.8,867.5 L1091.1,870.8 L1091.4,859.9 L1091.8,867.1 L1092.1,864.8 L1092.5,849.1 L1092.8,853.7 L1093.1,876.2 L1093.5,845.2 L1093.8,846.2 L1094.2,862.7 L1094.5,860.9 L1094.8,865.1 L1095.2,857.5 L1095.5,867.8 L1095.9,856.5 L1096.2,860.1 L1096.5,866.2 L1096.9,873.1 L1097.2,850.1 L1097.6,857.4 L1097.9,857.0 L1098.2,846.1 L1098.6,874.4 L1098.9,868.5 L1099.3,856.5 L1099.6,853.4 L1099.9,851.9 L1100.3,858.2 L1100.6,854.1 L1101.0,860.6 L1101.3,860.6 L1101.6,862.1 L1102.0,871.4 L1102.3,869.2 L1102.7,848.6 L1103.0,848.5 L1103.3,864.0 L1103.7,859.0 L1104.0,845.0 L1104.4,853.6 L1104.7,850.0 L1105.0,860.6 L1105.4,850.7 L1105.7,872.9 L1106.1,871.6 L1106.4,842.8 L1106.7,864.6 L1107.1,871.9 L1107.4,852.9 L1107.8,874.0 L1108.1,847.7 L1108.4,847.5 L1108.8,846.9 L1109.1,853.6 L1109.5,863.2 L1109.8,868.6 L1110.1,844.9 L1110.5,843.8 L1110.8,847.0 L1111.2,871.5 L1111.5,874.5 L1111.8,867.2 L1112.2,843.7 L1112.5,845.2 L1112.9,855.1 L1113.2,863.3 L1113.5,864.7 L1113.9,864.3 L1114.2,846.8 L1114.6,870.0 L1114.9,868.3 L1115.2,853.2 L1115.6,852.5 L1115.9,843.5 L1116.3,849.7 L1116.6,847.5 L1116.9,856.4 L1117.3,861.3 L1117.6,872.3 L1118.0,854.2 L1118.3,849.1 L1118.6,868.8 L1119.0,842.3 L1119.3,846.8 L1119.7,862.9 L1120.0,862.4 L1120.3,859.0 L1120.7,850.7 L1121.0,844.5 L1121.4,841.8 L1121.7,862.1 L1122.0,861.4 L1122.4,860.0 L1122.7,860.6 L1123.1,869.0 L1123.4,871.3 L1123.7,855.3 L1124.1,850.8 L1124.4,849.4 L1124.8,849.4 L1125.1,871.7 L1125.4,857.9 L1125.8,849.1 L1126.1,849.6 L1126.5,863.4 L1126.8,858.3 L1127.1,865.5 L1127.5,872.5 L1127.8,853.5 L1128.2,870.7 L1128.5,850.3 L1128.8,850.2 L1129.2,871.7 L1129.5,865.0 L1129.9,865.5 L1130.2,869.8 L1130.5,858.7 L1130.9,858.8 L1131.2,850.9 L1131.6,860.2 L1131.9,862.1 L1132.2,862.7 L1132.6,854.9 L1132.9,849.1 L1133.3,854.2 L1133.6,846.5 L1133.9,845.4 L1134.3,847.9 L1134.6,844.6 L1135.0,872.8 L1135.3,846.3 L1135.6,852.6 L1136.0,873.2 L1136.3,851.7 L1136.7,863.0 L1137.0,871.2 L1137.3,857.4 L1137.7,867.0 L1138.0,865.9 L1138.4,850.5 L1138.7,872.3 L1139.0,865.6 L1139.4,850.4 L1139.7,871.8 L1140.1,870.3 L1140.4,873.6 L1140.7,864.2 L1141.1,868.6 L1141.4,849.8 L1141.8,872.8 L1142.1,848.7 L1142.4,860.0 L1142.8,855.3 L1143.1,863.1 L1143.5,874.0 L1143.8,872.7 L1144.1,850.4 L1144.5,866.3 L1144.8,866.9 L1145.2,839.6 L1145.5,869.4 L1145.8,859.1 L1146.2,859.0 L1146.5,847.4 L1146.9,858.6 L1147.2,855.1 L1147.5,838.3 L1147.9,844.2 L1148.2,871.2 L1148.6,848.5 L1148.9,870.5 L1149.2,857.1 L1149.6,863.5 L1149.9,842.0 L1150.3,843.4 L1150.6,843.1 L1150.9,861.0 L1151.3,851.5 L1151.6,843.4 L1152.0,866.1 L1152.3,850.3 L1152.6,858.0 L1153.0,859.8 L1153.3,857.7 L1153.7,854.0 L1154.0,836.4 L1154.3,844.2 L1154.7,861.8 L1155.0,860.2 L1155.4,868.2 L1155.7,836.1 L1156.0,843.9 L1156.4,840.8 L1156.7,863.3 L1157.1,859.4 L1157.4,863.7 L1157.7,844.2 L1158.1,865.2 L1158.4,836.3 L1158.8,838.5 L1159.1,844.9 L1159.4,860.4 L1159.8,858.0 L1160.1,840.2 L1160.5,840.5 L1160.8,863.5 L1161.1,851.8 L1161.5,841.5 L1161.8,839.0 L1162.2,843.1 L1162.5,842.9 L1162.8,865.1 L1163.2,844.5 L1163.5,867.1 L1163.9,853.2 L1164.2,858.8 L1164.5,839.7 L1164.9,843.8 L1165.2,844.4 L1165.6,839.9 L1165.9,853.1 L1166.2,842.6 L1166.6,843.4 L1166.9,847.6 L1167.3,861.1 L1167.6,871.1 L1167.9,843.5 L1168.3,870.7 L1168.6,855.7 L1169.0,838.8 L1169.3,845.2 L1169.6,865.6 L1170.0,840.9 L1170.3,848.2 L1170.7,848.6 L1171.0,843.8 L1171.3,861.0 L1171.7,856.1 L1172.0,845.6 L1172.4,868.7 L1172.7,861.0 L1173.0,866.7 L1173.4,869.4 L1173.7,851.3 L1174.1,852.1 L1174.4,858.0 L1174.7,841.9 L1175.1,866.0 L1175.4,867.5 L1175.8,864.1 L1176.1,855.5 L1176.4,867.2 L1176.8,862.4 L1177.1,868.3 L1177.5,861.1 L1177.8,853.3 L1178.1,854.4 L1178.5,863.8 L1178.8,847.0 L1179.2,868.5 L1179.5,869.9 L1179.8,868.2 L1180.2,856.9 L1180.5,844.2 L1180.9,867.5 L1181.2,848.8 L1181.5,843.5 L1181.9,855.3 L1182.2,868.3 L1182.6,859.7 L1182.9,849.6 L1183.2,846.2 L1183.6,858.3 L1183.9,852.6 L1184.3,848.0 L1184.6,851.5 L1184.9,867.2 L1185.3,860.3 L1185.6,855.6 L1186.0,849.9 L1186.3,855.8 L1186.6,848.9 L1187.0,864.4 L1187.3,863.4 L1187.7,854.3 L1188.0,857.2 L1188.3,858.4 L1188.7,855.1 L1189.0,868.8 L1189.4,855.4 L1189.7,866.5 L1190.0,868.5 L1190.4,857.1 L1190.7,849.5 L1191.1,862.7 L1191.4,857.7 L1191.7,858.9 L1192.1,868.8 L1192.4,848.4 L1192.8,868.1 L1193.1,856.7 L1193.4,850.4 L1193.8,851.3 L1194.1,852.2 L1194.5,858.1 L1194.8,868.7 L1195.1,862.3 L1195.5,858.5 L1195.8,866.4 L1196.2,857.5 L1196.5,850.3 L1196.8,853.9 L1197.2,869.0 L1197.5,864.5 L1197.9,858.0 L1198.2,869.8 L1198.5,850.2 L1198.9,869.5 L1199.2,870.0 L1199.6,852.3 L1199.9,855.0 L1200.2,849.2 L1200.6,842.9 L1200.9,848.6 L1201.3,872.0 L1201.6,843.3 L1201.9,850.8 L1202.3,854.0 L1202.6,843.2 L1203.0,846.2 L1203.3,849.0 L1203.6,859.9 L1204.0,869.3 L1204.3,845.7 L1204.7,853.2 L1205.0,855.7 L1205.3,851.1 L1205.7,864.7 L1206.0,872.0 L1206.4,846.4 L1206.7,850.1 L1207.0,839.0 L1207.4,839.0 L1207.7,860.7 L1208.1,846.9 L1208.4,848.9 L1208.7,873.9 L1209.1,854.4 L1209.4,858.3 L1209.8,852.0 L1210.1,868.7 L1210.4,847.8 L1210.8,849.9 L1211.1,857.1 L1211.5,872.4 L1211.8,852.2 L1212.1,867.7 L1212.5,853.9 L1212.8,862.5 L1213.2,842.1 L1213.5,869.6 L1213.8,861.7 L1214.2,852.5 L1214.5,866.8 L1214.9,842.0 L1215.2,844.1 L1215.5,857.4 L1215.9,857.5 L1216.2,854.1 L1216.6,840.1 L1216.9,839.8 L1217.2,832.8 L1217.6,825.9 L1217.9,827.7 L1218.3,818.1 L1218.6,817.9 L1218.9,808.9 L1219.3,806.8 L1219.6,803.7 L1220.0,804.7 L1220.3,803.2 L1220.6,807.6 L1221.0,811.1 L1221.3,816.9 L1221.7,819.1 L1222.0,823.7 L1222.3,824.4 L1222.7,829.3 L1223.0,827.2 L1223.4,832.0 L1223.7,829.2 L1224.0,832.0 L1224.4,828.5 L1224.7,828.5 L1225.1,826.5 L1225.4,824.5 L1225.7,816.4 L1226.1,814.0 L1226.4,819.5 L1226.8,810.7 L1227.1,815.9 L1227.4,813.9 L1227.8,815.8 L1228.1,821.6 L1228.5,821.8 L1228.8,825.6 L1229.1,835.0 L1229.5,842.2 L1229.8,845.7 L1230.2,850.8 L1230.5,844.9 L1230.8,855.6 L1231.2,840.1 L1231.5,845.7 L1231.9,852.5 L1232.2,857.1 L1232.5,858.3 L1232.9,869.3 L1233.2,867.0 L1233.6,842.6 L1233.9,873.1 L1234.2,855.0 L1234.6,869.7 L1234.9,843.9 L1235.3,874.7 L1235.6,856.1 L1235.9,865.6 L1236.3,865.1 L1236.6,853.9 L1237.0,852.7 L1237.3,846.9 L1237.6,846.8 L1238.0,867.9 L1238.3,862.0 L1238.7,863.8 L1239.0,869.9 L1239.3,840.2 L1239.7,844.4 L1240.0,865.8 L1240.4,867.5 L1240.7,857.0 L1241.0,867.8 L1241.4,868.6 L1241.7,870.0 L1242.1,865.9 L1242.4,870.7 L1242.7,865.4 L1243.1,847.1 L1243.4,847.1 L1243.8,858.5 L1244.1,862.5 L1244.4,841.6 L1244.8,874.6 L1245.1,846.1 L1245.5,868.5 L1245.8,841.8 L1246.1,837.4 L1246.5,850.5 L1246.8,872.4 L1247.2,844.0 L1247.5,837.8 L1247.8,856.9 L1248.2,869.2 L1248.5,862.0 L1248.9,853.7 L1249.2,844.9 L1249.5,861.3 L1249.9,856.7 L1250.2,870.8 L1250.6,859.3 L1250.9,848.1 L1251.2,865.9 L1251.6,870.0 L1251.9,867.6 L1252.3,856.9 L1252.6,870.4 L1252.9,855.7 L1253.3,852.0 L1253.6,851.1 L1254.0,849.3 L1254.3,872.5 L1254.6,866.5 L1255.0,873.0 L1255.3,861.4 L1255.7,853.0 L1256.0,856.1 L1256.3,852.1 L1256.7,846.2 L1257.0,851.3 L1257.4,844.2 L1257.7,865.8 L1258.0,844.8 L1258.4,852.1 L1258.7,855.7 L1259.1,862.4 L1259.4,849.4 L1259.7,866.5 L1260.1,847.6 L1260.4,872.1 L1260.8,871.6 L1261.1,846.0 L1261.4,857.8 L1261.8,850.1 L1262.1,849.2 L1262.5,852.1 L1262.8,861.4 L1263.1,868.5 L1263.5,868.8 L1263.8,854.5 L1264.2,850.8 L1264.5,862.0 L1264.8,866.9 L1265.2,860.5 L1265.5,866.8 L1265.9,838.0 L1266.2,844.3 L1266.5,838.3 L1266.9,865.3 L1267.2,847.2 L1267.6,858.3 L1267.9,853.8 L1268.2,855.7 L1268.6,850.4 L1268.9,842.2 L1269.3,855.1 L1269.6,841.6 L1269.9,848.2 L1270.3,837.8 L1270.6,849.2 L1271.0,849.4 L1271.3,867.7 L1271.6,866.4 L1272.0,858.3 L1272.3,855.9 L1272.7,865.1 L1273.0,868.3 L1273.3,864.5 L1273.7,864.2 L1274.0,854.4 L1274.4,860.4 L1274.7,849.9 L1275.0,850.7 L1275.4,856.3 L1275.7,858.4 L1276.1,845.8 L1276.4,848.4 L1276.7,850.9 L1277.1,858.0 L1277.4,840.2 L1277.8,851.3 L1278.1,867.4 L1278.4,850.2 L1278.8,862.0 L1279.1,849.6 L1279.5,866.1 L1279.8,845.7 L1280.1,857.9 L1280.5,844.2 L1280.8,840.8 L1281.2,858.0 L1281.5,859.5 L1281.8,867.4 L1282.2,841.7 L1282.5,842.0 L1282.9,864.6 L1283.2,837.2 L1283.5,847.4 L1283.9,848.0 L1284.2,843.2 L1284.6,842.3 L1284.9,859.6 L1285.2,849.5 L1285.6,869.8 L1285.9,856.2 L1286.3,848.1 L1286.6,850.1 L1286.9,853.5 L1287.3,862.5 L1287.6,856.5 L1288.0,843.8 L1288.3,859.7 L1288.6,846.9 L1289.0,844.4 L1289.3,859.6 L1289.7,851.5 L1290.0,852.1 L1290.3,864.6 L1290.7,841.3 L1291.0,849.2 L1291.4,846.0 L1291.7,841.1 L1292.0,860.3 L1292.4,858.6 L1292.7,850.1 L1293.1,846.9 L1293.4,853.5 L1293.7,844.7 L1294.1,859.9 L1294.4,842.2 L1294.8,857.0 L1295.1,854.3 L1295.4,848.2 L1295.8,845.5 L1296.1,852.5 L1296.5,857.1 L1296.8,852.3 L1297.1,859.2 L1297.5,845.5 L1297.8,852.9 L1298.2,858.5 L1298.5,846.8 L1298.8,850.4 L1299.2,857.0 L1299.5,856.9 L1299.9,857.5 L1300.2,850.5 L1300.5,854.6 L1300.9,848.4 L1301.2,848.2 L1301.6,847.1 L1301.9,863.5 L1302.2,843.5 L1302.6,859.9 L1302.9,849.4 L1303.3,849.9 L1303.6,859.1 L1303.9,850.5 L1304.3,850.5 L1304.6,851.9 L1305.0,846.7 L1305.3,851.4 L1305.6,859.6 L1306.0,841.3 L1306.3,846.3 L1306.7,842.9 L1307.0,842.2 L1307.3,861.3 L1307.7,855.1 L1308.0,864.8 L1308.4,859.6 L1308.7,843.4 L1309.0,844.6 L1309.4,857.6 L1309.7,850.2 L1310.1,845.8 L1310.4,849.5 L1310.7,845.8 L1311.1,865.5 L1311.4,850.7 L1311.8,842.2 L1312.1,844.5 L1312.4,851.1 L1312.8,863.0 L1313.1,863.6 L1313.5,855.2 L1313.8,846.5 L1314.1,840.6 L1314.5,837.2 L1314.8,861.6 L1315.2,854.7 L1315.5,848.0 L1315.8,847.2 L1316.2,852.9 L1316.5,849.1 L1316.9,836.8 L1317.2,853.5 L1317.5,851.8 L1317.9,842.9 L1318.2,848.7 L1318.6,866.3 L1318.9,854.7 L1319.2,855.1 L1319.6,847.5 L1319.9,847.5 L1320.3,863.6 L1320.6,864.8 L1320.9,855.9 L1321.3,856.5 L1321.6,855.2 L1322.0,849.4 L1322.3,842.6 L1322.6,851.0 L1323.0,850.0 L1323.3,857.2 L1323.7,851.7 L1324.0,842.2 L1324.3,844.3 L1324.7,867.2 L1325.0,853.2 L1325.4,865.8 L1325.7,843.8 L1326.0,847.8 L1326.4,856.9 L1326.7,851.6 L1327.1,855.4 L1327.4,862.9 L1327.7,864.7 L1328.1,859.0 L1328.4,852.2 L1328.8,856.6 L1329.1,852.0 L1329.4,861.4 L1329.8,863.7 L1330.1,852.0 L1330.5,858.4 L1330.8,855.4 L1331.1,860.2 L1331.5,844.9 L1331.8,861.4 L1332.2,850.6 L1332.5,862.6 L1332.8,851.3 L1333.2,852.8 L1333.5,845.9 L1333.9,855.5 L1334.2,850.3 L1334.5,846.5 L1334.9,851.9 L1335.2,845.0 L1335.6,844.3 L1335.9,852.3 L1336.2,854.0 L1336.6,849.3 L1336.9,859.2 L1337.3,844.6 L1337.6,847.6 L1337.9,851.8 L1338.3,853.3 L1338.6,856.2 L1339.0,855.4 L1339.3,852.9 L1339.6,864.8 L1340.0,850.1 L1340.3,844.0 L1340.7,855.5 L1341.0,847.9 L1341.3,846.8 L1341.7,851.7 L1342.0,865.9 L1342.4,852.4 L1342.7,860.9 L1343.0,863.2 L1343.4,856.1 L1343.7,865.6 L1344.1,865.4 L1344.4,853.2 L1344.7,856.7 L1345.1,851.6 L1345.4,867.1 L1345.8,844.0 L1346.1,863.1 L1346.4,867.6 L1346.8,866.6 L1347.1,857.9 L1347.5,864.9 L1347.8,866.3 L1348.1,852.1 L1348.5,855.9 L1348.8,848.4 L1349.2,850.9 L1349.5,854.4 L1349.8,861.4 L1350.2,856.8 L1350.5,864.5 L1350.9,854.9 L1351.2,868.8 L1351.5,869.4 L1351.9,852.4 L1352.2,861.0 L1352.6,866.0 L1352.9,865.6 L1353.2,860.3 L1353.6,842.1 L1353.9,857.7 L1354.3,865.9 L1354.6,851.6 L1354.9,850.1 L1355.3,862.4 L1355.6,853.8 L1356.0,870.7 L1356.3,864.6 L1356.6,858.4 L1357.0,860.7 L1357.3,854.8 L1357.7,870.0 L1358.0,863.0 L1358.3,865.2 L1358.7,857.8 L1359.0,843.7 L1359.4,843.5 L1359.7,856.2 L1360.0,845.4 L1360.4,869.0 L1360.7,855.4 L1361.1,857.3 L1361.4,850.1 L1361.7,861.9 L1362.1,856.8 L1362.4,849.7 L1362.8,855.0 L1363.1,847.2 L1363.4,864.9 L1363.8,853.8 L1364.1,860.7 L1364.5,852.5 L1364.8,851.1 L1365.1,842.6 L1365.5,861.2 L1365.8,857.8 L1366.2,849.2 L1366.5,870.6 L1366.8,858.3 L1367.2,864.3 L1367.5,846.7 L1367.9,843.8 L1368.2,863.0 L1368.5,849.4 L1368.9,846.6 L1369.2,871.9 L1369.6,857.0 L1369.9,853.4 L1370.2,840.4 L1370.6,860.4 L1370.9,857.1 L1371.3,842.6 L1371.6,859.5 L1371.9,859.3 L1372.3,863.1 L1372.6,858.6 L1373.0,848.6 L1373.3,863.2 L1373.6,844.6 L1374.0,867.7 L1374.3,862.2 L1374.7,849.3 L1375.0,867.4 L1375.3,865.8 L1375.7,840.4 L1376.0,851.7 L1376.4,840.3 L1376.7,839.0 L1377.0,865.9 L1377.4,868.6 L1377.7,858.8 L1378.1,861.0 L1378.4,858.4 L1378.7,859.3 L1379.1,857.1 L1379.4,852.1 L1379.8,850.2 L1380.1,842.9 L1380.4,848.1 L1380.8,847.5 L1381.1,858.1 L1381.5,865.1 L1381.8,864.4 L1382.1,854.6 L1382.5,859.2 L1382.8,840.5 L1383.2,842.4 L1383.5,867.4 L1383.8,853.5 L1384.2,854.5 L1384.5,851.2 L1384.9,862.5 L1385.2,848.3 L1385.5,857.2 L1385.9,855.1 L1386.2,854.0 L1386.6,850.0 L1386.9,847.8 L1387.2,845.3 L1387.6,865.5 L1387.9,843.3 L1388.3,847.7 L1388.6,851.3 L1388.9,840.7 L1389.3,864.7 L1389.6,853.9 L1390.0,850.8 L1390.3,850.6 L1390.6,857.2 L1391.0,854.7 L1391.3,845.9 L1391.7,854.5 L1392.0,850.0 L1392.3,859.5 L1392.7,861.5 L1393.0,845.6 L1393.4,843.3 L1393.7,851.1 L1394.0,867.2 L1394.4,844.7 L1394.7,863.4 L1395.1,871.5 L1395.4,845.7 L1395.7,847.3 L1396.1,865.9 L1396.4,862.2 L1396.8,848.4 L1397.1,855.8 L1397.4,873.3 L1397.8,842.6 L1398.1,862.8 L1398.5,860.7 L1398.8,865.8 L1399.1,851.8 L1399.5,841.6 L1399.8,848.5 L1400.2,849.2 L1400.5,866.3 L1400.8,862.6 L1401.2,841.0 L1401.5,864.9 L1401.9,860.1 L1402.2,849.1 L1402.5,842.7 L1402.9,856.7 L1403.2,843.1 L1403.6,841.1 L1403.9,846.3 L1404.2,849.9 L1404.6,845.8 L1404.9,843.2 L1405.3,860.5 L1405.6,858.2 L1405.9,842.2 L1406.3,851.9 L1406.6,855.5 L1407.0,863.4 L1407.3,854.9 L1407.6,866.3 L1408.0,865.7 L1408.3,857.3 L1408.7,865.0 L1409.0,861.8 L1409.3,845.0 L1409.7,838.3 L1410.0,840.5 L1410.4,859.3 L1410.7,841.9 L1411.0,854.4 L1411.4,855.2 L1411.7,851.9 L1412.1,867.4 L1412.4,864.6 L1412.7,847.4 L1413.1,840.3 L1413.4,848.6 L1413.8,844.0 L1414.1,853.2 L1414.4,842.9 L1414.8,851.6 L1415.1,848.7 L1415.5,851.2 L1415.8,853.9 L1416.1,866.4 L1416.5,844.2 L1416.8,841.0 L1417.2,848.3 L1417.5,859.5 L1417.8,861.1 L1418.2,855.0 L1418.5,863.2 L1418.9,864.2 L1419.2,840.9 L1419.5,862.7 L1419.9,863.8 L1420.2,839.3 L1420.6,857.4 L1420.9,855.4 L1421.2,861.8 L1421.6,845.3 L1421.9,867.2 L1422.3,840.3 L1422.6,849.9 L1422.9,871.7 L1423.3,871.0 L1423.6,847.7 L1424.0,870.3 L1424.3,850.5 L1424.6,857.3 L1425.0,862.2 L1425.3,850.7 L1425.7,841.7 L1426.0,851.6 L1426.3,845.8 L1426.7,844.9 L1427.0,855.9 L1427.4,859.9 L1427.7,857.9 L1428.0,868.4 L1428.4,868.7 L1428.7,860.0 L1429.1,867.2 L1429.4,838.3 L1429.7,866.4 L1430.1,850.2 L1430.4,861.2 L1430.8,867.0 L1431.1,850.2 L1431.4,852.2 L1431.8,838.5 L1432.1,847.5 L1432.5,841.1 L1432.8,855.9 L1433.1,844.6 L1433.5,859.0 L1433.8,844.6 L1434.2,863.6 L1434.5,843.2 L1434.8,857.4 L1435.2,860.7 L1435.5,845.3 L1435.9,865.7 L1436.2,842.8 L1436.5,863.0 L1436.9,856.2 L1437.2,843.1 L1437.6,851.7 L1437.9,864.3 L1438.2,862.9 L1438.6,846.7 L1438.9,841.0 L1439.3,845.0 L1439.6,867.1 L1439.9,845.2 L1440.3,857.3 L1440.6,861.9 L1441.0,850.9 L1441.3,852.4 L1441.6,856.8 L1442.0,860.1 L1442.3,860.4 L1442.7,863.9 L1443.0,848.7 L1443.3,844.9 L1443.7,846.9 L1444.0,847.8 L1444.4,849.7 L1444.7,844.3 L1445.0,843.6 L1445.4,862.6 L1445.7,852.2 L1446.1,854.0 L1446.4,863.3 L1446.7,839.2 L1447.1,855.8 L1447.4,852.7 L1447.8,858.2 L1448.1,838.5 L1448.4,863.4 L1448.8,848.0 L1449.1,857.2 L1449.5,846.6 L1449.8,863.4" stroke="#000" stroke-width="5.8"/>
</g>
<g font-family="'Liberation Serif', serif" fill="#1a1a1a" font-size="49" text-anchor="middle">
<text transform="translate(370.5,452.0) scale(1.00,1.000)">2</text>
<text transform="translate(437.7,605.0) scale(1.00,1.000)">2</text>
<text transform="translate(527.7,293.6) scale(1.00,1.000)">2</text>
<text transform="translate(572.8,585.4) scale(1.00,1.000)">2</text>
<text transform="translate(692.0,339.3) scale(1.00,1.000)">2</text>
<text transform="translate(822.6,521.7) scale(1.00,1.000)">2</text>
<text transform="translate(896.4,231.0) scale(1.00,1.000)">2</text>
<text transform="translate(967.2,550.0) scale(1.00,1.000)">2</text>
<text transform="translate(1056.3,588.7) scale(1.00,1.000)">2</text>
<text transform="translate(1195.3,533.7) scale(0.72,1.000)">1</text>
<text transform="translate(1225.5,496.0) scale(1.00,1.000)">2</text>
<text transform="translate(232.5,934.0) scale(1.00,1.000)">3</text>
<text transform="translate(255.4,899.7) scale(1.00,1.000)">4</text>
<text transform="translate(386.8,811.6) scale(1.00,1.000)">4</text>
<text transform="translate(463.5,864.0) scale(1.00,1.000)">3</text>
<text transform="translate(553.5,717.0) scale(1.00,1.000)">4</text>
<text transform="translate(559.3,757.7) scale(1.00,1.000)">3</text>
<text transform="translate(691.0,817.5) scale(1.00,1.000)">3</text>
</g>
<path d="M106.7,33.1H1446.4" stroke="#363636" stroke-width="3.3"/>
<path d="M108.2,33.1V1045" stroke="#383838" stroke-width="3.3"/>
<path d="M1444.9,33.1V1045" stroke="#333" stroke-width="3.4"/>
<path d="M106.7,1025.8H1446.4" stroke="#242424" stroke-width="3.8"/>
<path d="M141.7,1025.8V1036.5M175.1,1025.8V1036.5M208.5,1025.8V1036.5M241.9,1025.8V1036.5M275.4,1025.8V1045.0M308.8,1025.8V1036.5M342.2,1025.8V1036.5M375.6,1025.8V1036.5M409.0,1025.8V1036.5M442.4,1025.8V1045.0M475.8,1025.8V1036.5M509.2,1025.8V1036.5M542.7,1025.8V1036.5M576.1,1025.8V1036.5M609.5,1025.8V1045.0M642.9,1025.8V1036.5M676.3,1025.8V1036.5M709.7,1025.8V1036.5M743.1,1025.8V1036.5M776.5,1025.8V1045.0M810.0,1025.8V1036.5M843.4,1025.8V1036.5M876.8,1025.8V1036.5M910.2,1025.8V1036.5M943.6,1025.8V1045.0M977.0,1025.8V1036.5M1010.4,1025.8V1036.5M1043.8,1025.8V1036.5M1077.3,1025.8V1036.5M1110.7,1025.8V1045.0M1144.1,1025.8V1036.5M1177.5,1025.8V1036.5M1210.9,1025.8V1036.5M1244.3,1025.8V1036.5M1277.7,1025.8V1045.0M1311.1,1025.8V1036.5M1344.6,1025.8V1036.5M1378.0,1025.8V1036.5M1411.4,1025.8V1036.5" stroke="#262626" stroke-width="3.5" stroke-linecap="butt"/>
<g font-family="'Liberation Serif', serif" fill="#1a1a1a" font-size="47" text-anchor="middle">
<text transform="translate(109.3,1094.0) scale(1,1.08)">10</text>
<text transform="translate(275.4,1094.0) scale(1,1.08)">20</text>
<text transform="translate(442.4,1094.0) scale(1,1.08)">30</text>
<text transform="translate(609.5,1094.0) scale(1,1.08)">40</text>
<text transform="translate(776.5,1094.0) scale(1,1.08)">50</text>
<text transform="translate(943.6,1094.0) scale(1,1.08)">60</text>
<text transform="translate(1110.7,1094.0) scale(1,1.08)">70</text>
<text transform="translate(1277.7,1094.0) scale(1,1.08)">80</text>
<text transform="translate(1444.8,1094.0) scale(1,1.08)">90</text>
</g>
<text font-family="'Liberation Serif', serif" fill="#1a1a1a" font-size="47" x="801.3" y="1141" text-anchor="middle">2&#952; (deg.)</text>
<text font-family="'Liberation Serif', serif" fill="#1a1a1a" font-size="47" transform="translate(57.5,591.5) rotate(-90)" text-anchor="middle">Intensity (counts)</text>
<text font-family="'Liberation Serif', serif" fill="#1a1a1a" font-size="55.5" x="1048.6" y="426">NiCrAlY coating</text>
<text font-family="'Liberation Serif', serif" fill="#1a1a1a" font-size="55" x="1179.5" y="765.3">superalloy</text>
</svg>
</body></html>
